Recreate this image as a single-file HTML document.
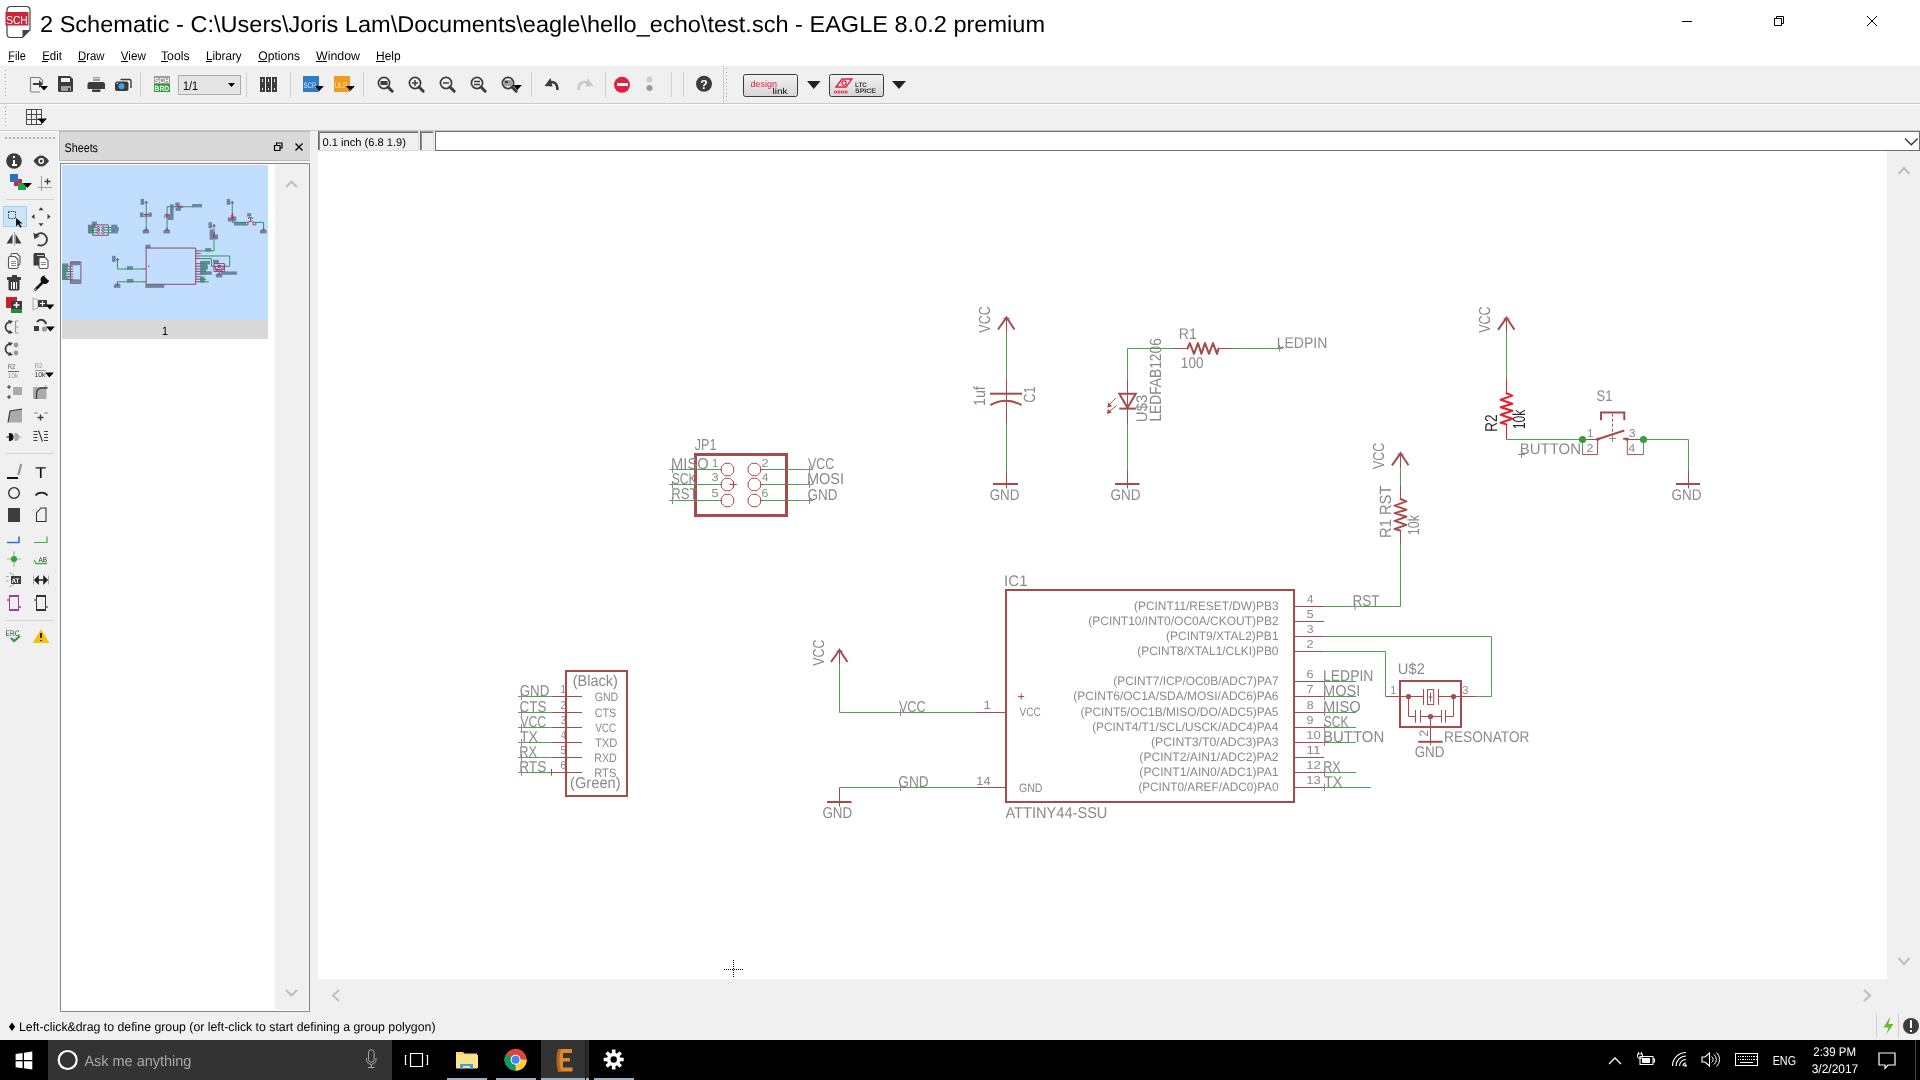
<!DOCTYPE html>
<html><head><meta charset="utf-8"><title>EAGLE 8.0.2 - test.sch</title>
<style>
html,body{margin:0;padding:0;width:1920px;height:1080px;overflow:hidden;background:#f0f0f0;font-family:"Liberation Sans", sans-serif;}
svg{position:absolute;left:0;top:0;will-change:transform;}
text{font-family:"Liberation Sans", sans-serif;text-rendering:geometricPrecision;}
</style></head><body>
<svg width="1920" height="1080" viewBox="0 0 1920 1080">
<defs><linearGradient id="btng" x1="0" y1="0" x2="0" y2="1"><stop offset="0" stop-color="#f2f2f2"/><stop offset="1" stop-color="#d6d6d6"/></linearGradient></defs>
<rect x="0" y="0" width="1920" height="66" fill="#ffffff" shape-rendering="crispEdges" />
<rect x="0" y="65" width="1920" height="1" fill="#f7f7f7" shape-rendering="crispEdges" />
<rect x="0" y="66" width="1920" height="974" fill="#f0f0f0" shape-rendering="crispEdges" />
<rect x="0" y="103" width="1920" height="1" fill="#c9c9c9" shape-rendering="crispEdges" />
<rect x="0" y="104" width="1920" height="1" fill="#fbfbfb" shape-rendering="crispEdges" />
<rect x="0" y="130" width="1920" height="1" fill="#c9c9c9" shape-rendering="crispEdges" />
<g><path d="M10.5 6.5 h16 a3.5 3.5 0 0 1 3.5 3.5 v20 l-7.5 7.5 h-12 a3.5 3.5 0 0 1 -3.5 -3.5 v-24 a3.5 3.5 0 0 1 3.5 -3.5z" fill="#fff" stroke="#444" stroke-width="1.2"/><path d="M30 30 l-7.5 7.5 v-7.5z" fill="#444"/><rect x="5.5" y="12" width="23" height="13.5" fill="#c8283a"/></g>
<text x="6.2" y="23.5" font-size="11.5" fill="#fff" textLength="21.5" lengthAdjust="spacingAndGlyphs" >SCH</text>
<text x="40" y="32" font-size="23" fill="#000" textLength="1005" lengthAdjust="spacingAndGlyphs" >2 Schematic - C:\Users\Joris Lam\Documents\eagle\hello_echo\test.sch - EAGLE 8.0.2 premium</text>
<line x1="1682" y1="21.5" x2="1692" y2="21.5" stroke="#000" stroke-width="1" />
<path d="M1774.5 18.5 h7 v7 h-7z M1776.5 18.5 v-2 h7 v7 h-2" stroke="#000" fill="none" stroke-width="1" />
<path d="M1867 16 L1877 26 M1877 16 L1867 26" stroke="#000" fill="none" stroke-width="1" />
<text x="8.3" y="60" font-size="12.5" fill="#000" textLength="17.5" lengthAdjust="spacingAndGlyphs" >File</text>
<rect x="8.3" y="61" width="5.4" height="1" fill="#000" shape-rendering="crispEdges" />
<text x="42.2" y="60" font-size="12.5" fill="#000" textLength="19.8" lengthAdjust="spacingAndGlyphs" >Edit</text>
<rect x="42.2" y="61" width="5.7" height="1" fill="#000" shape-rendering="crispEdges" />
<text x="78" y="60" font-size="12.5" fill="#000" textLength="26.5" lengthAdjust="spacingAndGlyphs" >Draw</text>
<rect x="78" y="61" width="7.8" height="1" fill="#000" shape-rendering="crispEdges" />
<text x="120.8" y="60" font-size="12.5" fill="#000" textLength="25" lengthAdjust="spacingAndGlyphs" >View</text>
<rect x="120.8" y="61" width="7.1" height="1" fill="#000" shape-rendering="crispEdges" />
<text x="161" y="60" font-size="12.5" fill="#000" textLength="28.6" lengthAdjust="spacingAndGlyphs" >Tools</text>
<rect x="161" y="61" width="6.9" height="1" fill="#000" shape-rendering="crispEdges" />
<text x="206" y="60" font-size="12.5" fill="#000" textLength="35.7" lengthAdjust="spacingAndGlyphs" >Library</text>
<rect x="206" y="61" width="6" height="1" fill="#000" shape-rendering="crispEdges" />
<text x="258.3" y="60" font-size="12.5" fill="#000" textLength="41.7" lengthAdjust="spacingAndGlyphs" >Options</text>
<rect x="258.3" y="61" width="8.3" height="1" fill="#000" shape-rendering="crispEdges" />
<text x="316" y="60" font-size="12.5" fill="#000" textLength="44" lengthAdjust="spacingAndGlyphs" >Window</text>
<rect x="316" y="61" width="10.9" height="1" fill="#000" shape-rendering="crispEdges" />
<text x="376" y="60" font-size="12.5" fill="#000" textLength="24.7" lengthAdjust="spacingAndGlyphs" >Help</text>
<rect x="376" y="61" width="8.6" height="1" fill="#000" shape-rendering="crispEdges" />
<rect x="4.5" y="70" width="1" height="1" fill="#a0a0a0" shape-rendering="crispEdges" />
<rect x="5.5" y="71" width="1" height="1" fill="#fdfdfd" shape-rendering="crispEdges" />
<rect x="4.5" y="73.5" width="1" height="1" fill="#a0a0a0" shape-rendering="crispEdges" />
<rect x="5.5" y="74.5" width="1" height="1" fill="#fdfdfd" shape-rendering="crispEdges" />
<rect x="4.5" y="77.0" width="1" height="1" fill="#a0a0a0" shape-rendering="crispEdges" />
<rect x="5.5" y="78.0" width="1" height="1" fill="#fdfdfd" shape-rendering="crispEdges" />
<rect x="4.5" y="80.5" width="1" height="1" fill="#a0a0a0" shape-rendering="crispEdges" />
<rect x="5.5" y="81.5" width="1" height="1" fill="#fdfdfd" shape-rendering="crispEdges" />
<rect x="4.5" y="84.0" width="1" height="1" fill="#a0a0a0" shape-rendering="crispEdges" />
<rect x="5.5" y="85.0" width="1" height="1" fill="#fdfdfd" shape-rendering="crispEdges" />
<rect x="4.5" y="87.5" width="1" height="1" fill="#a0a0a0" shape-rendering="crispEdges" />
<rect x="5.5" y="88.5" width="1" height="1" fill="#fdfdfd" shape-rendering="crispEdges" />
<rect x="4.5" y="91.0" width="1" height="1" fill="#a0a0a0" shape-rendering="crispEdges" />
<rect x="5.5" y="92.0" width="1" height="1" fill="#fdfdfd" shape-rendering="crispEdges" />
<rect x="4.5" y="94.5" width="1" height="1" fill="#a0a0a0" shape-rendering="crispEdges" />
<rect x="5.5" y="95.5" width="1" height="1" fill="#fdfdfd" shape-rendering="crispEdges" />
<rect x="4.5" y="107" width="1" height="1" fill="#a0a0a0" shape-rendering="crispEdges" />
<rect x="5.5" y="108" width="1" height="1" fill="#fdfdfd" shape-rendering="crispEdges" />
<rect x="4.5" y="110.5" width="1" height="1" fill="#a0a0a0" shape-rendering="crispEdges" />
<rect x="5.5" y="111.5" width="1" height="1" fill="#fdfdfd" shape-rendering="crispEdges" />
<rect x="4.5" y="114.0" width="1" height="1" fill="#a0a0a0" shape-rendering="crispEdges" />
<rect x="5.5" y="115.0" width="1" height="1" fill="#fdfdfd" shape-rendering="crispEdges" />
<rect x="4.5" y="117.5" width="1" height="1" fill="#a0a0a0" shape-rendering="crispEdges" />
<rect x="5.5" y="118.5" width="1" height="1" fill="#fdfdfd" shape-rendering="crispEdges" />
<rect x="4.5" y="121.0" width="1" height="1" fill="#a0a0a0" shape-rendering="crispEdges" />
<rect x="5.5" y="122.0" width="1" height="1" fill="#fdfdfd" shape-rendering="crispEdges" />
<rect x="4.5" y="124.5" width="1" height="1" fill="#a0a0a0" shape-rendering="crispEdges" />
<rect x="5.5" y="125.5" width="1" height="1" fill="#fdfdfd" shape-rendering="crispEdges" />
<path d="M30.5 77.5 h9 l3 3 v3 M30.5 77.5 v13 a1.5 1.5 0 0 0 1.5 1.5 h8" stroke="#808080" fill="none" stroke-width="1.2" />
<path d="M33 83 h6 v-3 l4 4 l-4 4 v-3 h-6z" stroke="none" fill="#3c3c3c" stroke-width="1" />
<path d="M40 86 h8 l-4 4.5z" stroke="none" fill="#000" stroke-width="1" />
<path d="M58 76 h12 l3 3 v11.5 a1.5 1.5 0 0 1 -1.5 1.5 h-12 a1.5 1.5 0 0 1 -1.5 -1.5z" stroke="none" fill="#3c3c3c" stroke-width="1" />
<rect x="61" y="77.5" width="9" height="4.5" fill="#f0f0f0" shape-rendering="crispEdges" />
<rect x="61" y="86" width="10" height="5" fill="#a0a0a0" shape-rendering="crispEdges" />
<rect x="68" y="87.5" width="1.5" height="3" fill="#3c3c3c" shape-rendering="crispEdges" />
<rect x="92.5" y="76.5" width="7.5" height="4" fill="#a0a0a0" shape-rendering="crispEdges" />
<rect x="92.5" y="78" width="7.5" height="0.8" fill="#d0d0d0" shape-rendering="crispEdges" />
<path d="M90 82 h12.5 a2.5 2.5 0 0 1 2.5 2.5 v4.5 h-17.5 v-4.5 a2.5 2.5 0 0 1 2.5 -2.5z" stroke="none" fill="#3c3c3c" stroke-width="1" />
<path d="M92 89.5 h8.5 v1.5 a1 1 0 0 1 -1 1 h-6.5 a1 1 0 0 1 -1 -1z" stroke="none" fill="#3c3c3c" stroke-width="1" />
<path d="M120.5 79.5 h9 a1.5 1.5 0 0 1 1.5 1.5 v7" stroke="#3c3c3c" fill="none" stroke-width="1.4" />
<path d="M117 81.5 h9.5 a2 2 0 0 1 2 2 v5.5 a2 2 0 0 1 -2 2 h-9.5 a2 2 0 0 1 -2 -2 v-5.5 a2 2 0 0 1 2 -2z" stroke="none" fill="#3c3c3c" stroke-width="1" />
<circle cx="121.5" cy="86.3" r="3" fill="#3aa4e6"/><circle cx="117.3" cy="83.3" r="0.7" fill="#fff"/>
<rect x="140" y="72" width="1" height="25" fill="#d0d0d0" shape-rendering="crispEdges" />
<rect x="154" y="76" width="16" height="8" fill="#9a9a9a" shape-rendering="crispEdges" />
<rect x="154" y="84" width="16" height="8" fill="#2f9a3a" shape-rendering="crispEdges" />
<text x="154.6" y="83.2" font-size="7.5" fill="#fff" textLength="14.6" lengthAdjust="spacingAndGlyphs" font-weight="bold" >SCH</text>
<text x="154.6" y="91.2" font-size="7.5" fill="#fff" textLength="14.6" lengthAdjust="spacingAndGlyphs" font-weight="bold" >BRD</text>
<rect x="178.5" y="75.5" width="62" height="19" fill="#e5e5e5" shape-rendering="crispEdges" stroke="#adadad" stroke-width="1"/>
<text x="183" y="89.5" font-size="12.5" fill="#000" textLength="15" lengthAdjust="spacingAndGlyphs" >1/1</text>
<path d="M228 83 h7 l-3.5 4z" stroke="none" fill="#000" stroke-width="1" />
<rect x="246.3" y="72" width="1" height="25" fill="#d0d0d0" shape-rendering="crispEdges" />
<rect x="260" y="77" width="4.5" height="15" fill="#3c3c3c" shape-rendering="crispEdges" />
<rect x="261.5" y="78.5" width="1.5" height="3" fill="#f0f0f0" shape-rendering="crispEdges" />
<rect x="261.5" y="88" width="1.5" height="2" fill="#f0f0f0" shape-rendering="crispEdges" />
<rect x="266" y="77" width="4.5" height="15" fill="#3c3c3c" shape-rendering="crispEdges" />
<rect x="267.5" y="78.5" width="1.5" height="3" fill="#f0f0f0" shape-rendering="crispEdges" />
<rect x="267.5" y="88" width="1.5" height="2" fill="#f0f0f0" shape-rendering="crispEdges" />
<rect x="272" y="77" width="4.5" height="15" fill="#3c3c3c" shape-rendering="crispEdges" />
<rect x="273.5" y="78.5" width="1.5" height="3" fill="#f0f0f0" shape-rendering="crispEdges" />
<rect x="273.5" y="88" width="1.5" height="2" fill="#f0f0f0" shape-rendering="crispEdges" />
<rect x="290" y="72" width="1" height="25" fill="#d0d0d0" shape-rendering="crispEdges" />
<rect x="303" y="76" width="16" height="16" fill="#2e7bc6" shape-rendering="crispEdges" />
<text x="303.5" y="87.5" font-size="8" fill="#dfe9f5" textLength="13" lengthAdjust="spacingAndGlyphs" >SCR</text>
<path d="M315 86 h8.8 l-4.4 4.95z" stroke="none" fill="#000" stroke-width="1" />
<rect x="334" y="76" width="16" height="16" fill="#f39a1f" shape-rendering="crispEdges" />
<text x="334.5" y="87.5" font-size="8" fill="#fde7c8" textLength="13" lengthAdjust="spacingAndGlyphs" >ULP</text>
<path d="M346 86 h8.8 l-4.4 4.95z" stroke="none" fill="#000" stroke-width="1" />
<rect x="363.4" y="72" width="1" height="25" fill="#d0d0d0" shape-rendering="crispEdges" />
<circle cx="384" cy="83" r="5.6" fill="none" stroke="#3c3c3c" stroke-width="1.7"/>
<path d="M388 87 l4.2 4.2" stroke="#3c3c3c" fill="none" stroke-width="3" stroke-linecap="round"/>
<rect x="380.5" y="81" width="7" height="4" fill="#3c3c3c"/>
<circle cx="415" cy="83" r="5.6" fill="none" stroke="#3c3c3c" stroke-width="1.7"/>
<path d="M419 87 l4.2 4.2" stroke="#3c3c3c" fill="none" stroke-width="3" stroke-linecap="round"/>
<path d="M412 83h6M415 80v6" stroke="#3c3c3c" stroke-width="1.5"/>
<circle cx="446" cy="83" r="5.6" fill="none" stroke="#3c3c3c" stroke-width="1.7"/>
<path d="M450 87 l4.2 4.2" stroke="#3c3c3c" fill="none" stroke-width="3" stroke-linecap="round"/>
<path d="M443 83h6" stroke="#3c3c3c" stroke-width="1.5"/>
<circle cx="477" cy="83" r="5.6" fill="none" stroke="#3c3c3c" stroke-width="1.7"/>
<path d="M481 87 l4.2 4.2" stroke="#3c3c3c" fill="none" stroke-width="3" stroke-linecap="round"/>
<path d="M474 81.5h6M474 84.5h6" stroke="#3c3c3c" stroke-width="1.3"/>
<circle cx="508" cy="83" r="5.6" fill="none" stroke="#3c3c3c" stroke-width="1.7"/>
<path d="M512 87 l4.2 4.2" stroke="#3c3c3c" fill="none" stroke-width="3" stroke-linecap="round"/>
<rect x="504" y="80" width="8" height="6" fill="#a0a0a0"/><rect x="505" y="81" width="3" height="2" fill="#3c3c3c"/>
<path d="M513 85 h8.8 l-4.4 4.95z" stroke="none" fill="#000" stroke-width="1" />
<rect x="530.7" y="72" width="1" height="25" fill="#d0d0d0" shape-rendering="crispEdges" />
<path d="M557.5 90 c0 -7 -4 -9 -9 -7.5" stroke="#3c3c3c" fill="none" stroke-width="2.6" />
<path d="M544.5 86 l6 -8 l2 8.5z" stroke="none" fill="#3c3c3c" stroke-width="1" />
<path d="M576.5 90 c0 -7 4 -9 9 -7.5" stroke="#c8c8c8" fill="none" stroke-width="2.6" transform="translate(2 0)"/>
<path d="M591.5 86 l-6 -8 l-2 8.5z" stroke="none" fill="#c8c8c8" stroke-width="1" transform="translate(2 0)"/>
<rect x="604.8" y="72" width="1" height="25" fill="#d0d0d0" shape-rendering="crispEdges" />
<circle cx="622" cy="84.8" r="8" fill="#e0203c"/>
<rect x="616.5" y="83.3" width="11" height="3" fill="#fff" shape-rendering="crispEdges" />
<circle cx="649.5" cy="79.5" r="3" fill="#cdcdcd"/><circle cx="649.5" cy="88" r="3" fill="#9a9a9a"/>
<rect x="670.9" y="72" width="1" height="25" fill="#d0d0d0" shape-rendering="crispEdges" />
<rect x="682.7" y="72" width="1" height="25" fill="#d0d0d0" shape-rendering="crispEdges" />
<circle cx="704" cy="83.8" r="8" fill="#3c3c3c"/>
<text x="700.3" y="88.8" font-size="13" fill="#fff" textLength="7.5" lengthAdjust="spacingAndGlyphs" font-weight="bold" >?</text>
<rect x="722.5" y="66" width="1" height="37" fill="#cfcfcf" shape-rendering="crispEdges" />
<rect x="725.5" y="68" width="1" height="1" fill="#a0a0a0" shape-rendering="crispEdges" />
<rect x="726.5" y="69" width="1" height="1" fill="#fdfdfd" shape-rendering="crispEdges" />
<rect x="725.5" y="71.5" width="1" height="1" fill="#a0a0a0" shape-rendering="crispEdges" />
<rect x="726.5" y="72.5" width="1" height="1" fill="#fdfdfd" shape-rendering="crispEdges" />
<rect x="725.5" y="75.0" width="1" height="1" fill="#a0a0a0" shape-rendering="crispEdges" />
<rect x="726.5" y="76.0" width="1" height="1" fill="#fdfdfd" shape-rendering="crispEdges" />
<rect x="725.5" y="78.5" width="1" height="1" fill="#a0a0a0" shape-rendering="crispEdges" />
<rect x="726.5" y="79.5" width="1" height="1" fill="#fdfdfd" shape-rendering="crispEdges" />
<rect x="725.5" y="82.0" width="1" height="1" fill="#a0a0a0" shape-rendering="crispEdges" />
<rect x="726.5" y="83.0" width="1" height="1" fill="#fdfdfd" shape-rendering="crispEdges" />
<rect x="725.5" y="85.5" width="1" height="1" fill="#a0a0a0" shape-rendering="crispEdges" />
<rect x="726.5" y="86.5" width="1" height="1" fill="#fdfdfd" shape-rendering="crispEdges" />
<rect x="725.5" y="89.0" width="1" height="1" fill="#a0a0a0" shape-rendering="crispEdges" />
<rect x="726.5" y="90.0" width="1" height="1" fill="#fdfdfd" shape-rendering="crispEdges" />
<rect x="725.5" y="92.5" width="1" height="1" fill="#a0a0a0" shape-rendering="crispEdges" />
<rect x="726.5" y="93.5" width="1" height="1" fill="#fdfdfd" shape-rendering="crispEdges" />
<rect x="725.5" y="96.0" width="1" height="1" fill="#a0a0a0" shape-rendering="crispEdges" />
<rect x="726.5" y="97.0" width="1" height="1" fill="#fdfdfd" shape-rendering="crispEdges" />
<rect x="725.5" y="99.5" width="1" height="1" fill="#a0a0a0" shape-rendering="crispEdges" />
<rect x="726.5" y="100.5" width="1" height="1" fill="#fdfdfd" shape-rendering="crispEdges" />
<rect x="743.5" y="74.5" width="54" height="22" rx="2" fill="url(#btng)" stroke="#3a3a3a" stroke-width="1"/>
<text x="750.5" y="86.5" font-size="9" fill="#e0203c" textLength="26.5" lengthAdjust="spacingAndGlyphs" >design</text>
<text x="772.5" y="93.5" font-size="8.5" fill="#000" textLength="15" lengthAdjust="spacingAndGlyphs" >link</text>
<path d="M807 81 h13.5 l-6.75 8z" stroke="none" fill="#222" stroke-width="1" />
<rect x="829.5" y="74.5" width="54" height="22" rx="2" fill="url(#btng)" stroke="#3a3a3a" stroke-width="1"/>
<path d="M836 87 l6 -8 h10 l-6 8z" stroke="#e0203c" fill="none" stroke-width="1.3" />
<circle cx="844" cy="83" r="2.2" fill="none" stroke="#e0203c" stroke-width="1.2"/>
<circle cx="835.5" cy="92" r="1.2" fill="none" stroke="#e0203c" stroke-width="0.9"/>
<circle cx="839.0" cy="92" r="1.2" fill="none" stroke="#e0203c" stroke-width="0.9"/>
<circle cx="842.5" cy="92" r="1.2" fill="none" stroke="#e0203c" stroke-width="0.9"/>
<circle cx="846.0" cy="92" r="1.2" fill="none" stroke="#e0203c" stroke-width="0.9"/>
<text x="855" y="86.5" font-size="6.5" fill="#333" textLength="12" lengthAdjust="spacingAndGlyphs" font-weight="bold" >LTC</text>
<text x="855" y="93" font-size="6.5" fill="#333" textLength="21" lengthAdjust="spacingAndGlyphs" font-weight="bold" >SPICE</text>
<path d="M892 81 h14 l-7 8z" stroke="none" fill="#222" stroke-width="1" />
<rect x="26" y="109" width="15.5" height="15.5" fill="#4a4a4a" shape-rendering="crispEdges" />
<rect x="27.4" y="110.4" width="3.4" height="3.4" fill="#f2f2f2" shape-rendering="crispEdges" />
<rect x="27.4" y="115.30000000000001" width="3.4" height="3.4" fill="#f2f2f2" shape-rendering="crispEdges" />
<rect x="27.4" y="120.2" width="3.4" height="3.4" fill="#f2f2f2" shape-rendering="crispEdges" />
<rect x="32.3" y="110.4" width="3.4" height="3.4" fill="#f2f2f2" shape-rendering="crispEdges" />
<rect x="32.3" y="115.30000000000001" width="3.4" height="3.4" fill="#f2f2f2" shape-rendering="crispEdges" />
<rect x="32.3" y="120.2" width="3.4" height="3.4" fill="#f2f2f2" shape-rendering="crispEdges" />
<rect x="37.2" y="110.4" width="3.4" height="3.4" fill="#f2f2f2" shape-rendering="crispEdges" />
<rect x="37.2" y="115.30000000000001" width="3.4" height="3.4" fill="#f2f2f2" shape-rendering="crispEdges" />
<rect x="37.2" y="120.2" width="3.4" height="3.4" fill="#f2f2f2" shape-rendering="crispEdges" />
<path d="M37.5 118.5 h9.5 l-4.75 5z" stroke="none" fill="#000" stroke-width="1" />
<rect x="58" y="131" width="1" height="880" fill="#fbfbfb" shape-rendering="crispEdges" />
<rect x="5" y="136.5" width="2" height="2" fill="#b4b4b4" shape-rendering="crispEdges" />
<rect x="9" y="136.5" width="2" height="2" fill="#b4b4b4" shape-rendering="crispEdges" />
<rect x="13" y="136.5" width="2" height="2" fill="#b4b4b4" shape-rendering="crispEdges" />
<rect x="17" y="136.5" width="2" height="2" fill="#b4b4b4" shape-rendering="crispEdges" />
<rect x="21" y="136.5" width="2" height="2" fill="#b4b4b4" shape-rendering="crispEdges" />
<rect x="25" y="136.5" width="2" height="2" fill="#b4b4b4" shape-rendering="crispEdges" />
<rect x="29" y="136.5" width="2" height="2" fill="#b4b4b4" shape-rendering="crispEdges" />
<rect x="33" y="136.5" width="2" height="2" fill="#b4b4b4" shape-rendering="crispEdges" />
<rect x="37" y="136.5" width="2" height="2" fill="#b4b4b4" shape-rendering="crispEdges" />
<rect x="41" y="136.5" width="2" height="2" fill="#b4b4b4" shape-rendering="crispEdges" />
<rect x="45" y="136.5" width="2" height="2" fill="#b4b4b4" shape-rendering="crispEdges" />
<rect x="49" y="136.5" width="2" height="2" fill="#b4b4b4" shape-rendering="crispEdges" />
<rect x="53" y="136.5" width="2" height="2" fill="#b4b4b4" shape-rendering="crispEdges" />
<rect x="6" y="199" width="48" height="1" fill="#d2d2d2" shape-rendering="crispEdges" />
<rect x="6" y="453" width="48" height="1" fill="#d2d2d2" shape-rendering="crispEdges" />
<rect x="6" y="619.5" width="48" height="1" fill="#d2d2d2" shape-rendering="crispEdges" />
<circle cx="14" cy="161" r="7.8" fill="#3c3c3c"/>
<rect x="12.6" y="159.5" width="2.8" height="6" fill="#fff" shape-rendering="crispEdges" />
<rect x="12.6" y="155.6" width="2.8" height="2.6" fill="#fff" shape-rendering="crispEdges" />
<rect x="11.5" y="164.2" width="5" height="1.4" fill="#fff" shape-rendering="crispEdges" />
<path d="M33.5 161 q7.6 -11 15.5 0 q-7.9 11 -15.5 0z" stroke="none" fill="#3c3c3c" stroke-width="1" />
<circle cx="41.2" cy="161" r="2.2" fill="none" stroke="#fff" stroke-width="1.4"/>
<rect x="10" y="174" width="8" height="8" fill="#2e6fc0" shape-rendering="crispEdges" />
<rect x="14" y="178.5" width="8" height="7.5" fill="#d8204f" shape-rendering="crispEdges" />
<rect x="18" y="182.5" width="8" height="7.5" fill="#20a050" shape-rendering="crispEdges" />
<rect x="10" y="174" width="8" height="8" fill="#2e6fc0" shape-rendering="crispEdges" />
<path d="M23 183 h8.8 l-4.4 4.95z" stroke="none" fill="#000" stroke-width="1" />
<rect x="41" y="176" width="1.2" height="15" fill="#a0a0a0" shape-rendering="crispEdges" />
<rect x="38" y="186.5" width="14" height="1.2" fill="#a0a0a0" shape-rendering="crispEdges" />
<path d="M44.5 181.5 h6 M47.5 178.5 v6" stroke="#3c3c3c" fill="none" stroke-width="1.3" />
<rect x="3.5" y="206.5" width="22.5" height="20" fill="#cce4f7" shape-rendering="crispEdges" stroke="#99d1ff" stroke-width="1"/>
<path d="M8.5 211.5 h7 v7 h-7z" stroke="#222" fill="none" stroke-width="1" stroke-dasharray="1.2 1.2"/>
<path d="M16 218 v8.5 l2.2 -2.2 l2 3.5 l1.5 -0.8 l-2 -3.5 h3z" stroke="none" fill="#111" stroke-width="1" />
<path d="M41 207.2 l2.6 3 h-5.2z" stroke="none" fill="#3c3c3c" stroke-width="1" transform="rotate(0 41 209.7)"/>
<path d="M41 221.2 l2.6 3 h-5.2z" stroke="none" fill="#3c3c3c" stroke-width="1" transform="rotate(180 41 223.7)"/>
<path d="M34 214.2 l2.6 3 h-5.2z" stroke="none" fill="#3c3c3c" stroke-width="1" transform="rotate(270 34 216.7)"/>
<path d="M48 214.2 l2.6 3 h-5.2z" stroke="none" fill="#3c3c3c" stroke-width="1" transform="rotate(90 48 216.7)"/>
<path d="M6.5 243.5 l6 -9.5 v9.5z M21.5 243.5 l-6 -9.5 v9.5z" stroke="none" fill="#3c3c3c" stroke-width="1" />
<rect x="13.5" y="232" width="1" height="14" fill="#aaaaaa" shape-rendering="crispEdges" />
<path d="M35.6 236 a6.2 6.2 0 1 1 2 8.7" stroke="#3c3c3c" fill="none" stroke-width="1.8" />
<path d="M33.4 232.8 l1 6.5 l5.3 -3.3z" stroke="none" fill="#3c3c3c" stroke-width="1" />
<path d="M12.5 253.5 h4.5 l3 3 v7.0 a1.5 1.5 0 0 1 -1.5 1.5 h-6 a1.5 1.5 0 0 1 -1.5 -1.5 v-8.5 a1.5 1.5 0 0 1 1.5 -1.5z" stroke="#555" fill="#fafafa" stroke-width="1.1" />
<path d="M10.0 256.5 h5.0 l3 3 v7.5 a1.5 1.5 0 0 1 -1.5 1.5 h-6.5 a1.5 1.5 0 0 1 -1.5 -1.5 v-9 a1.5 1.5 0 0 1 1.5 -1.5z" stroke="#555" fill="#fafafa" stroke-width="1.1" />
<rect x="11" y="261" width="5" height="1" fill="#8a8a8a" shape-rendering="crispEdges" />
<rect x="11" y="263" width="5" height="1" fill="#8a8a8a" shape-rendering="crispEdges" />
<rect x="11" y="265" width="5" height="1" fill="#8a8a8a" shape-rendering="crispEdges" />
<path d="M35 253 h8.5 a1.5 1.5 0 0 1 1.5 1.5 v11 h-11.5 v-11 a1.5 1.5 0 0 1 1.5 -1.5z" stroke="none" fill="#3c3c3c" stroke-width="1" />
<rect x="36.5" y="254.7" width="7" height="1" fill="#c8c8c8" shape-rendering="crispEdges" />
<path d="M40.5 257.5 h4.5 l3 3 v6.5 a1.5 1.5 0 0 1 -1.5 1.5 h-6 a1.5 1.5 0 0 1 -1.5 -1.5 v-8 a1.5 1.5 0 0 1 1.5 -1.5z" stroke="#555" fill="#fafafa" stroke-width="1.1" />
<rect x="41" y="262" width="5" height="1" fill="#8a8a8a" shape-rendering="crispEdges" />
<rect x="41" y="264" width="5" height="1" fill="#8a8a8a" shape-rendering="crispEdges" />
<rect x="7" y="277" width="14" height="2.5" fill="#3c3c3c" shape-rendering="crispEdges" />
<rect x="11.5" y="275" width="5" height="2" fill="#3c3c3c" shape-rendering="crispEdges" />
<path d="M8.5 280 h11 v9 a1.5 1.5 0 0 1 -1.5 1.5 h-8 a1.5 1.5 0 0 1 -1.5 -1.5z" stroke="none" fill="#3c3c3c" stroke-width="1" />
<rect x="10.6" y="281.5" width="1.2" height="7" fill="#f0f0f0" shape-rendering="crispEdges" />
<rect x="13.4" y="281.5" width="1.2" height="7" fill="#f0f0f0" shape-rendering="crispEdges" />
<rect x="16.2" y="281.5" width="1.2" height="7" fill="#f0f0f0" shape-rendering="crispEdges" />
<path d="M35.5 289.5 l7.5 -7.5" stroke="#111" fill="none" stroke-width="2.6" stroke-linecap="round"/>
<circle cx="44.8" cy="279.8" r="4.3" fill="#111"/>
<path d="M45.2 275.3 l4.2 4.2" stroke="#f0f0f0" fill="none" stroke-width="2.8" />
<circle cx="35.8" cy="289.2" r="0.7" fill="#fff"/>
<rect x="6" y="297" width="11" height="11" fill="#c8202e" shape-rendering="crispEdges" />
<rect x="11" y="301" width="11" height="8" fill="#3c3c3c" shape-rendering="crispEdges" />
<rect x="11" y="309" width="11" height="4" fill="#2b8a2b" shape-rendering="crispEdges" />
<path d="M13.5 305 h6 M16.5 302 v6" stroke="#fff" fill="none" stroke-width="1.5" />
<path d="M33 298 l5 2 v8 l-5 2z" stroke="#aaa" fill="none" stroke-width="1" />
<rect x="38" y="300" width="9" height="7" fill="#3c3c3c" shape-rendering="crispEdges" />
<path d="M40 303.5 h5 M42.5 301 v5" stroke="#fff" fill="none" stroke-width="1.1" />
<path d="M45.5 304.5 h8.8 l-4.4 4.95z" stroke="none" fill="#000" stroke-width="1" />
<path d="M10.5 322 a4 4 0 0 0 0 10" stroke="#3c3c3c" fill="none" stroke-width="1.8" />
<path d="M8 320 l5 1 l-3 3z M8 334 l5 -1 l-3 -3z" stroke="none" fill="#3c3c3c" stroke-width="1" />
<path d="M15.5 321 v12 M15.5 321 h3 M15.5 327 h3 M15.5 333 h3" stroke="#999" fill="none" stroke-width="1.2" />
<path d="M37 322 a5 5 0 0 1 9 2" stroke="#3c3c3c" fill="none" stroke-width="2" />
<rect x="33.5" y="326" width="5" height="5" fill="#3c3c3c" shape-rendering="crispEdges" />
<circle cx="44.5" cy="329" r="2.6" fill="#999"/>
<path d="M46 326.5 h8.8 l-4.4 4.95z" stroke="none" fill="#000" stroke-width="1" />
<path d="M10.5 344 a4 4 0 0 0 0 10" stroke="#3c3c3c" fill="none" stroke-width="1.8" />
<path d="M8 342 l5 1 l-3 3z M8 356 l5 -1 l-3 -3z" stroke="none" fill="#3c3c3c" stroke-width="1" />
<circle cx="16" cy="345" r="2.4" fill="#999"/><circle cx="16" cy="353" r="2.4" fill="#999"/>
<text x="7.5" y="369" font-size="7" fill="#666" textLength="8" lengthAdjust="spacingAndGlyphs" >R2</text>
<rect x="7.5" y="370.5" width="11" height="1" fill="#666" shape-rendering="crispEdges" />
<text x="7.5" y="377.5" font-size="7" fill="#999" textLength="11" lengthAdjust="spacingAndGlyphs" >10k</text>
<text x="34.5" y="368" font-size="7" fill="#999" textLength="8" lengthAdjust="spacingAndGlyphs" >R2</text>
<rect x="34.5" y="369.5" width="11" height="1" fill="#999" shape-rendering="crispEdges" />
<text x="34.5" y="377" font-size="7" fill="#333" textLength="11" lengthAdjust="spacingAndGlyphs" >10k</text>
<path d="M45 372.5 h8.8 l-4.4 4.95z" stroke="none" fill="#000" stroke-width="1" />
<path d="M9 385 v4 M7 387 h4 M9 395 v4 M7 397 h4" stroke="#3c3c3c" fill="none" stroke-width="1.1" />
<rect x="12.5" y="387" width="9" height="8" fill="#aaa" shape-rendering="crispEdges" />
<path d="M33 387 h12 v-2 h1.5 v14 h-13.5z" stroke="none" fill="#aaa" stroke-width="1" />
<path d="M36.5 399 v-6 a5 5 0 0 1 5 -5 h6" stroke="#3c3c3c" fill="none" stroke-width="1.3" />
<path d="M8 422.5 l2 -11.5 l12 -2 v13.5z" stroke="none" fill="#aaa" stroke-width="1" />
<path d="M8 422.5 l2 -11.5 l12 -2" stroke="#3c3c3c" fill="none" stroke-width="1.2" />
<path d="M34 413 h4 M44 413 h4" stroke="#888" fill="none" stroke-width="1" />
<path d="M37.5 417.5 h6 M40.5 414.5 v6" stroke="#3c3c3c" fill="none" stroke-width="1.4" />
<path d="M6.5 437 h3 M9.5 433.5 a3.5 3.5 0 0 1 0 7z" stroke="#111" fill="#111" stroke-width="1.2" />
<path d="M15 433.5 a3.5 3.5 0 0 1 0 7z M18.5 437 h3" stroke="#aaa" fill="#aaa" stroke-width="1.2" />
<path d="M33.5 431.5 h4 M33.5 434.5 h4 M33.5 437.5 h4 M33.5 440.5 h4 M44 431.5 h4 M44 434.5 h4 M44 437.5 h4 M44 440.5 h4 M38.5 430.5 l4 11" stroke="#3c3c3c" fill="none" stroke-width="1.2" />
<rect x="6.5" y="477" width="11" height="1.6" fill="#111" shape-rendering="crispEdges" />
<path d="M18.5 474 l2.5 -9" stroke="#999" fill="none" stroke-width="2.4" stroke-linecap="round"/>
<text x="35.3" y="477.8" font-size="15.5" fill="#111" textLength="11" lengthAdjust="spacingAndGlyphs" font-family="Liberation Serif">T</text>
<circle cx="14" cy="493" r="5.3" fill="none" stroke="#222" stroke-width="1.3"/>
<path d="M35.5 495.5 a7 6 0 0 1 12 0" stroke="#222" fill="none" stroke-width="1.6" />
<rect x="8" y="508" width="12" height="14" fill="#3c3c3c" shape-rendering="crispEdges" />
<path d="M36.5 521.5 v-8.5 l4.5 -5 h5 v13.5z" stroke="#333" fill="none" stroke-width="1.1" />
<path d="M7 542.5 h12 v-6" stroke="#2a75d0" fill="none" stroke-width="1.6" />
<path d="M34 542.5 h13 v-6" stroke="#3db040" fill="none" stroke-width="1.2" />
<path d="M14 551.5 v15 M7 559 h14" stroke="#aaa" fill="none" stroke-width="1.2" />
<circle cx="14" cy="559" r="3.1" fill="#2ea838"/>
<path d="M34 560 l2 3.5 h11" stroke="#3db040" fill="none" stroke-width="1.3" />
<text x="38.5" y="561.5" font-size="7" fill="#222" textLength="8.5" lengthAdjust="spacingAndGlyphs" >AB</text>
<path d="M6 576.5 h3 M6 581 h3 M9.5 573 l4 1.5 v10.5 l-4 1.5" stroke="#aaa" fill="none" stroke-width="1" />
<rect x="10.5" y="575.5" width="10" height="8" fill="#3c3c3c" shape-rendering="crispEdges" />
<text x="11.5" y="582.5" font-size="6.5" fill="#fff" textLength="8" lengthAdjust="spacingAndGlyphs" font-weight="bold" >AT</text>
<path d="M33.5 575.5 v9 M48.5 575.5 v9" stroke="#aaa" fill="none" stroke-width="1" />
<path d="M35 580 h12 M35 580 l3 -3 v6z M47 580 l-3 -3 v6z" stroke="#222" fill="#222" stroke-width="1.6" />
<rect x="9.5" y="596" width="9" height="14" fill="none" shape-rendering="crispEdges" stroke="#9b3fa0" stroke-width="1.3"/>
<path d="M7 600 h2.5 M18.5 607 h2.5" stroke="#9b3fa0" fill="none" stroke-width="1.3" />
<rect x="36.5" y="596" width="9" height="14" fill="none" shape-rendering="crispEdges" stroke="#333" stroke-width="1.3"/>
<path d="M34 600 h2.5 M45.5 607 h2.5" stroke="#9b3fa0" fill="none" stroke-width="1.3" />
<text x="5.5" y="636" font-size="8" fill="#333" textLength="14" lengthAdjust="spacingAndGlyphs" >ERC</text>
<path d="M11 638 l3 3 l6 -5" stroke="#2e9a35" fill="none" stroke-width="2.2" />
<path d="M41 629 l8.3 14 h-16.6z" stroke="none" fill="#f5c400" stroke-width="1" />
<rect x="40.2" y="633" width="1.8" height="5" fill="#222" shape-rendering="crispEdges" />
<rect x="40.2" y="639.5" width="1.8" height="1.8" fill="#222" shape-rendering="crispEdges" />
<rect x="60" y="132" width="249.5" height="28.5" fill="#d9d9d9" shape-rendering="crispEdges" />
<rect x="59" y="131" width="251" height="1" fill="#b9b9b9" shape-rendering="crispEdges" />
<rect x="59" y="131" width="1" height="30" fill="#b9b9b9" shape-rendering="crispEdges" />
<rect x="0" y="131" width="59" height="1" fill="#ffffff" shape-rendering="crispEdges" />
<rect x="59" y="160" width="251" height="1" fill="#b9b9b9" shape-rendering="crispEdges" />
<rect x="60" y="161" width="250" height="2" fill="#f8f8f8" shape-rendering="crispEdges" />
<text x="64.5" y="152" font-size="12.5" fill="#000" textLength="33.5" lengthAdjust="spacingAndGlyphs" >Sheets</text>
<path d="M274.5 145.5 h5.5 v5 h-5.5z M276.5 145.5 v-2.5 h5.5 v5 h-2" stroke="#000" fill="none" stroke-width="1.2" />
<path d="M295.5 143.5 l7 7 M302.5 143.5 l-7 7" stroke="#000" fill="none" stroke-width="1.4" />
<rect x="60.5" y="163.5" width="249" height="848" fill="#ffffff" shape-rendering="crispEdges" stroke="#828790" stroke-width="1"/>
<rect x="275" y="164" width="34" height="846" fill="#f0f0f0" shape-rendering="crispEdges" />
<path d="M286 187 l5.5 -5.5 l5.5 5.5" stroke="#bfbfbf" fill="none" stroke-width="2.2" />
<path d="M286 990 l5.5 5.5 l5.5 -5.5" stroke="#bfbfbf" fill="none" stroke-width="2.2" />
<rect x="62" y="165" width="206" height="155" fill="#c2deff" shape-rendering="crispEdges" />
<rect x="62" y="165" width="206" height="1" fill="#d4d8d8" shape-rendering="crispEdges" />
<rect x="62" y="320" width="206" height="19" fill="#d9d9d9" shape-rendering="crispEdges" />
<text x="165" y="334.5" font-size="12" fill="#000" text-anchor="middle" textLength="6" lengthAdjust="spacingAndGlyphs" >1</text>
<rect x="318" y="151" width="1569" height="828" fill="#ffffff" shape-rendering="crispEdges" />
<rect x="318" y="131" width="101" height="20" fill="#f0f0f0" shape-rendering="crispEdges" />
<rect x="318" y="131" width="101" height="1" fill="#a0a0a0" shape-rendering="crispEdges" />
<rect x="318" y="132" width="101" height="1" fill="#6e6e6e" shape-rendering="crispEdges" />
<rect x="318" y="131" width="1" height="20" fill="#6e6e6e" shape-rendering="crispEdges" />
<rect x="319" y="132" width="1" height="19" fill="#8a8a8a" shape-rendering="crispEdges" />
<rect x="318" y="150" width="101" height="1" fill="#dcdcdc" shape-rendering="crispEdges" />
<rect x="418" y="131" width="1" height="20" fill="#dcdcdc" shape-rendering="crispEdges" />
<text x="322.5" y="145.5" font-size="11" fill="#000" textLength="83.5" lengthAdjust="spacingAndGlyphs" >0.1 inch (6.8 1.9)</text>
<rect x="420" y="131" width="14" height="20" fill="#f0f0f0" shape-rendering="crispEdges" />
<rect x="420" y="131" width="14" height="1" fill="#a0a0a0" shape-rendering="crispEdges" />
<rect x="420" y="132" width="14" height="1" fill="#6e6e6e" shape-rendering="crispEdges" />
<rect x="420" y="131" width="1" height="20" fill="#6e6e6e" shape-rendering="crispEdges" />
<rect x="421" y="132" width="1" height="19" fill="#8a8a8a" shape-rendering="crispEdges" />
<rect x="420" y="150" width="14" height="1" fill="#dcdcdc" shape-rendering="crispEdges" />
<rect x="433" y="131" width="1" height="20" fill="#dcdcdc" shape-rendering="crispEdges" />
<rect x="435.5" y="131.5" width="1484" height="19" fill="#ffffff" shape-rendering="crispEdges" stroke="#6e6e6e" stroke-width="1"/>
<path d="M1905 138.5 l6.3 6.3 l6.3 -6.3" stroke="#333" fill="none" stroke-width="1.3" />
<path d="M1898.5 174 l5.5 -6 l5.5 6" stroke="#bfbfbf" fill="none" stroke-width="2.2" />
<path d="M1898.5 958 l5.5 6 l5.5 -6" stroke="#bfbfbf" fill="none" stroke-width="2.2" />
<path d="M339 990 l-6 5.5 l6 5.5" stroke="#bfbfbf" fill="none" stroke-width="2.2" />
<path d="M1864 990 l6 5.5 l-6 5.5" stroke="#bfbfbf" fill="none" stroke-width="2.2" />
<path d="M12 1022.5 l3.1 4.2 l-3.1 4.2 l-3.1 -4.2z" stroke="none" fill="#000" stroke-width="1" />
<text x="19" y="1030.5" font-size="12.5" fill="#000" textLength="416.5" lengthAdjust="spacingAndGlyphs" >Left-click&amp;drag to define group (or left-click to start defining a group polygon)</text>
<rect x="1876" y="1014" width="1" height="24" fill="#d0d0d0" shape-rendering="crispEdges" />
<rect x="1898" y="1014" width="1" height="24" fill="#d0d0d0" shape-rendering="crispEdges" />
<path d="M1889.5 1018 l-6 9.5 h5 l-2 6.5 l7 -10 h-5.2 l2 -6z" stroke="none" fill="#6ab82e" stroke-width="1" />
<circle cx="1911" cy="1026" r="8" fill="#3c3c3c"/>
<rect x="1910" y="1019.5" width="2.2" height="8.5" fill="#fff" shape-rendering="crispEdges" />
<rect x="1910" y="1029.8" width="2.2" height="2.2" fill="#fff" shape-rendering="crispEdges" />
<rect x="0" y="1040" width="1920" height="40" fill="#000000" shape-rendering="crispEdges" />
<rect x="48" y="1040" width="344" height="40" fill="#333333" shape-rendering="crispEdges" />
<path d="M15.6 1054 l7 -1 v7 h-7z M24 1052.8 l8.3 -1.2 v8.4 h-8.3z M15.6 1061.2 h7 v7 l-7 -1z M24 1061.2 h8.3 v8.3 l-8.3 -1.2z" stroke="none" fill="#fff" stroke-width="1" />
<circle cx="67.7" cy="1060" r="9" fill="none" stroke="#fff" stroke-width="2.2"/>
<text x="84.4" y="1066" font-size="15" fill="#a8a8a8" textLength="107" lengthAdjust="spacingAndGlyphs" >Ask me anything</text>
<path d="M368.5 1052.5 a2.8 2.8 0 0 1 5.6 0 v7 a2.8 2.8 0 0 1 -5.6 0z M366.5 1058 v1.5 a4.8 4.8 0 0 0 9.6 0 v-1.5 M371.3 1064.5 v3 M368 1067.5 h6.6" stroke="#a8a8a8" fill="none" stroke-width="1" />
<path d="M410.5 1053.5 h12 v13 h-12z M406.5 1055.5 h-1 v9 h1 M426.5 1055.5 h1 v9 h-1" stroke="#fff" fill="none" stroke-width="1.2" />
<path d="M456 1052 h7 l1.5 1.5 h12.5 v15 h-21z" stroke="none" fill="#f8d775" stroke-width="1" />
<rect x="456" y="1055" width="21.5" height="13" fill="#fde38a" shape-rendering="crispEdges" />
<path d="M460 1069 v-5 h13 v5 h-3 v-3 h-7 v3z" stroke="none" fill="#31a8e8" stroke-width="1" />
<circle cx="515.6" cy="1059.8" r="11" fill="#db4437"/>
<path d="M515.6 1059.8 L506 1065.3 A11 11 0 0 1 506.1 1054.3z" stroke="none" fill="#0f9d58" stroke-width="1" />
<path d="M515.6 1059.8 L506.1 1054.3 A11 11 0 0 0 506 1065.3z" stroke="none" fill="#0f9d58" stroke-width="1" />
<path d="M515.6 1059.8 L521.1 1069.3 A11 11 0 0 1 504.6 1059.8 A11 11 0 0 1 506 1065.3z" stroke="none" fill="#0f9d58" stroke-width="1" />
<path d="M515.6 1059.8 L526.6 1059.8 A11 11 0 0 1 515.6 1070.8 z" stroke="none" fill="#ffcd40" stroke-width="1" />
<path d="M515.6 1059.8 L526.6 1059.8 A11 11 0 0 1 521.1 1069.3 z" stroke="none" fill="#ffcd40" stroke-width="1" />
<circle cx="515.6" cy="1059.8" r="5" fill="#fff"/><circle cx="515.6" cy="1059.8" r="4" fill="#4285f4"/>
<rect x="541" y="1040" width="44" height="40" fill="#333333" shape-rendering="crispEdges" />
<rect x="585" y="1040" width="1" height="40" fill="#1a1a1a" shape-rendering="crispEdges" />
<rect x="586" y="1040" width="3" height="40" fill="#2b2b2b" shape-rendering="crispEdges" />
<path d="M558 1049 h14 v4 h-9 v5 h7 v3.5 h-7 v6 h9.5 v4 h-14.5 z" stroke="none" fill="#e0882a" stroke-width="1" />
<path d="M558 1049 q-3 11 0 22.5 h3 q-3 -11 0 -22.5z" stroke="none" fill="#b5651d" stroke-width="1" />
<rect x="611.9000000000001" y="1049.5" width="3.6" height="5" fill="#fff" transform="rotate(0 613.7 1059.5)"/><rect x="611.9000000000001" y="1049.5" width="3.6" height="5" fill="#fff" transform="rotate(45 613.7 1059.5)"/><rect x="611.9000000000001" y="1049.5" width="3.6" height="5" fill="#fff" transform="rotate(90 613.7 1059.5)"/><rect x="611.9000000000001" y="1049.5" width="3.6" height="5" fill="#fff" transform="rotate(135 613.7 1059.5)"/><rect x="611.9000000000001" y="1049.5" width="3.6" height="5" fill="#fff" transform="rotate(180 613.7 1059.5)"/><rect x="611.9000000000001" y="1049.5" width="3.6" height="5" fill="#fff" transform="rotate(225 613.7 1059.5)"/><rect x="611.9000000000001" y="1049.5" width="3.6" height="5" fill="#fff" transform="rotate(270 613.7 1059.5)"/><rect x="611.9000000000001" y="1049.5" width="3.6" height="5" fill="#fff" transform="rotate(315 613.7 1059.5)"/>
<circle cx="613.7" cy="1059.5" r="6.8" fill="#fff"/><circle cx="613.7" cy="1059.5" r="3.2" fill="#000"/>
<rect x="447.3" y="1078" width="39.69999999999999" height="2" fill="#9fb0bd" shape-rendering="crispEdges" />
<rect x="496" y="1078" width="39.799999999999955" height="2" fill="#9fb0bd" shape-rendering="crispEdges" />
<rect x="541" y="1078" width="44" height="2" fill="#9fb0bd" shape-rendering="crispEdges" />
<rect x="594" y="1078" width="40" height="2" fill="#9fb0bd" shape-rendering="crispEdges" />
<rect x="586" y="1078" width="3" height="2" fill="#9fb0bd" shape-rendering="crispEdges" />
<path d="M1609 1064 l6 -6 l6 6" stroke="#fff" fill="none" stroke-width="1.3" />
<path d="M1640 1056.5 h13 v8 h-13z M1653 1059 h1.5 v3 h-1.5" stroke="#fff" fill="none" stroke-width="1.1" />
<rect x="1641.5" y="1058" width="8" height="5" fill="#fff" shape-rendering="crispEdges" />
<path d="M1638.5 1054 v-2 M1641.5 1054 v-2 M1637.5 1054 h5 v2 a2.5 2.5 0 0 1 -5 0z" stroke="#fff" fill="none" stroke-width="1" />
<path d="M1683 1066 a3 3 0 0 1 3 -3" stroke="#fff" fill="none" stroke-width="1.1" />
<path d="M1679.5 1066 a6.5 6.5 0 0 1 6.5 -6.5" stroke="#fff" fill="none" stroke-width="1.1" />
<path d="M1676 1066 a10 10 0 0 1 10 -10" stroke="#fff" fill="none" stroke-width="1.1" />
<path d="M1672.5 1066 a13.5 13.5 0 0 1 13.5 -13.5" stroke="#fff" fill="none" stroke-width="1.1" />
<circle cx="1685.5" cy="1065.5" r="1.3" fill="#fff"/>
<path d="M1702 1057 h3 l4.5 -4 v13 l-4.5 -4 h-3z" stroke="#fff" fill="none" stroke-width="1.1" />
<path d="M1711.5 1056.5 a3.5 3.5 0 0 1 0 6 M1714 1054.5 a6.5 6.5 0 0 1 0 10 M1716.5 1052.5 a9.5 9.5 0 0 1 0 14" stroke="#fff" fill="none" stroke-width="1" />
<rect x="1735.5" y="1053.5" width="22" height="12" fill="none" shape-rendering="crispEdges" stroke="#fff" stroke-width="1.2"/>
<rect x="1738.0" y="1056" width="1.2" height="1.2" fill="#fff" shape-rendering="crispEdges" />
<rect x="1740.2" y="1056" width="1.2" height="1.2" fill="#fff" shape-rendering="crispEdges" />
<rect x="1742.4" y="1056" width="1.2" height="1.2" fill="#fff" shape-rendering="crispEdges" />
<rect x="1744.6" y="1056" width="1.2" height="1.2" fill="#fff" shape-rendering="crispEdges" />
<rect x="1746.8" y="1056" width="1.2" height="1.2" fill="#fff" shape-rendering="crispEdges" />
<rect x="1749.0" y="1056" width="1.2" height="1.2" fill="#fff" shape-rendering="crispEdges" />
<rect x="1751.2" y="1056" width="1.2" height="1.2" fill="#fff" shape-rendering="crispEdges" />
<rect x="1753.4" y="1056" width="1.2" height="1.2" fill="#fff" shape-rendering="crispEdges" />
<rect x="1755.6" y="1056" width="1.2" height="1.2" fill="#fff" shape-rendering="crispEdges" />
<rect x="1738.0" y="1059" width="1.2" height="1.2" fill="#fff" shape-rendering="crispEdges" />
<rect x="1740.2" y="1059" width="1.2" height="1.2" fill="#fff" shape-rendering="crispEdges" />
<rect x="1742.4" y="1059" width="1.2" height="1.2" fill="#fff" shape-rendering="crispEdges" />
<rect x="1744.6" y="1059" width="1.2" height="1.2" fill="#fff" shape-rendering="crispEdges" />
<rect x="1746.8" y="1059" width="1.2" height="1.2" fill="#fff" shape-rendering="crispEdges" />
<rect x="1749.0" y="1059" width="1.2" height="1.2" fill="#fff" shape-rendering="crispEdges" />
<rect x="1751.2" y="1059" width="1.2" height="1.2" fill="#fff" shape-rendering="crispEdges" />
<rect x="1753.4" y="1059" width="1.2" height="1.2" fill="#fff" shape-rendering="crispEdges" />
<rect x="1755.6" y="1059" width="1.2" height="1.2" fill="#fff" shape-rendering="crispEdges" />
<rect x="1740" y="1062" width="13" height="1.2" fill="#fff" shape-rendering="crispEdges" />
<text x="1772.7" y="1065" font-size="13" fill="#fff" textLength="23.3" lengthAdjust="spacingAndGlyphs" >ENG</text>
<text x="1813.3" y="1055.5" font-size="12.5" fill="#fff" textLength="42.7" lengthAdjust="spacingAndGlyphs" >2:39 PM</text>
<text x="1811.7" y="1073" font-size="12.5" fill="#fff" textLength="46.6" lengthAdjust="spacingAndGlyphs" >3/2/2017</text>
<path d="M1879 1053 h16 v12 h-7 l-3 3.5 v-3.5 h-6z" stroke="#fff" fill="none" stroke-width="1.2" />
<rect x="1915" y="1040" width="1" height="40" fill="#444" shape-rendering="crispEdges" />
<defs><clipPath id="thc"><rect x="62" y="165" width="206" height="155"/></clipPath></defs>
<g clip-path="url(#thc)"><rect x="142.63" y="230.03" width="6.50" height="3.41" fill="#6b86a3"/><rect x="140.62" y="198.82" width="3.49" height="6.01" fill="#6b86a3"/><rect x="139.88" y="212.40" width="3.53" height="4.78" fill="#6b86a3"/><rect x="148.38" y="212.57" width="3.53" height="4.15" fill="#6b86a3"/><rect x="163.44" y="230.03" width="6.56" height="3.41" fill="#6b86a3"/><rect x="167.83" y="213.97" width="3.42" height="5.98" fill="#6b86a3"/><rect x="170.05" y="204.29" width="3.53" height="15.57" fill="#6b86a3"/><rect x="175.26" y="202.50" width="4.37" height="3.41" fill="#6b86a3"/><rect x="175.61" y="207.47" width="5.23" height="3.41" fill="#6b86a3"/><rect x="192.11" y="203.98" width="9.93" height="3.41" fill="#6b86a3"/><rect x="259.99" y="230.03" width="6.54" height="3.41" fill="#6b86a3"/><rect x="247.06" y="213.15" width="4.13" height="3.41" fill="#6b86a3"/><rect x="233.97" y="222.15" width="11.72" height="3.41" fill="#6b86a3"/><rect x="226.69" y="198.84" width="3.49" height="6.01" fill="#6b86a3"/><rect x="227.84" y="217.32" width="3.63" height="4.32" fill="#6b86a3"/><rect x="232.61" y="216.42" width="3.67" height="4.80" fill="#6b86a3"/><rect x="91.81" y="221.48" width="5.18" height="3.46" fill="#6b86a3"/><rect x="87.91" y="224.66" width="7.74" height="3.45" fill="#6b86a3"/><rect x="87.91" y="227.21" width="5.76" height="3.45" fill="#6b86a3"/><rect x="87.91" y="229.91" width="5.90" height="3.45" fill="#6b86a3"/><rect x="111.28" y="224.68" width="6.02" height="3.45" fill="#6b86a3"/><rect x="111.28" y="227.22" width="7.55" height="3.45" fill="#6b86a3"/><rect x="111.28" y="229.96" width="6.56" height="3.45" fill="#6b86a3"/><rect x="61.75" y="263.46" width="6.49" height="3.45" fill="#6b86a3"/><rect x="61.75" y="266.19" width="5.99" height="3.45" fill="#6b86a3"/><rect x="61.75" y="268.76" width="5.99" height="3.45" fill="#6b86a3"/><rect x="61.75" y="271.32" width="4.59" height="3.45" fill="#6b86a3"/><rect x="61.75" y="273.89" width="4.42" height="3.45" fill="#6b86a3"/><rect x="61.75" y="276.45" width="5.99" height="3.45" fill="#6b86a3"/><rect x="70.92" y="261.80" width="9.07" height="3.45" fill="#6b86a3"/><rect x="70.47" y="279.31" width="9.98" height="3.45" fill="#6b86a3"/><rect x="112.09" y="255.82" width="3.49" height="5.98" fill="#6b86a3"/><rect x="126.92" y="266.19" width="6.09" height="3.45" fill="#6b86a3"/><rect x="126.92" y="279.04" width="6.59" height="3.45" fill="#6b86a3"/><rect x="113.86" y="284.41" width="6.50" height="3.45" fill="#6b86a3"/><rect x="145.25" y="244.73" width="5.27" height="3.41" fill="#6b86a3"/><rect x="145.25" y="284.41" width="18.95" height="3.45" fill="#6b86a3"/><rect x="205.16" y="248.07" width="6.01" height="3.45" fill="#6b86a3"/><rect x="200.10" y="260.89" width="9.88" height="3.45" fill="#6b86a3"/><rect x="200.10" y="263.46" width="7.57" height="3.45" fill="#6b86a3"/><rect x="200.10" y="266.19" width="7.76" height="3.45" fill="#6b86a3"/><rect x="200.10" y="268.76" width="5.75" height="3.45" fill="#6b86a3"/><rect x="200.10" y="271.32" width="11.72" height="3.45" fill="#6b86a3"/><rect x="200.10" y="276.45" width="4.39" height="3.45" fill="#6b86a3"/><rect x="200.10" y="279.02" width="4.65" height="3.45" fill="#6b86a3"/><rect x="208.50" y="222.16" width="3.49" height="5.98" fill="#6b86a3"/><rect x="209.68" y="229.45" width="3.53" height="10.29" fill="#6b86a3"/><rect x="214.45" y="234.42" width="3.49" height="4.90" fill="#6b86a3"/><rect x="212.97" y="259.85" width="5.92" height="3.41" fill="#6b86a3"/><rect x="215.78" y="274.03" width="6.50" height="3.41" fill="#6b86a3"/><rect x="220.92" y="271.41" width="15.99" height="3.41" fill="#6b86a3"/><g transform="translate(-26.997 147.158) scale(0.1721 0.171)" shape-rendering="crispEdges"><path d="M1006.5 316 L1006.5 333" stroke="#8c4a6c" stroke-width="1" fill="none"  vector-effect="non-scaling-stroke"/><path d="M998.0 329.5 L1006.5 317.5 L1014.5 329.5" stroke="#8c4a6c" stroke-width="1" fill="none"  vector-effect="non-scaling-stroke"/><path d="M1003.5 318.5 L1009.5 318.5" stroke="#8c4a6c" stroke-width="1" fill="none"  vector-effect="non-scaling-stroke"/><path d="M1006.5 333 L1006.5 378.5" stroke="#2a9a52" stroke-width="1" fill="none"  vector-effect="non-scaling-stroke"/><path d="M1006.5 378.5 L1006.5 424" stroke="#8c4a6c" stroke-width="1" fill="none"  vector-effect="non-scaling-stroke"/><path d="M990 393.7 L1022 393.7" stroke="#8c4a6c" stroke-width="1" fill="none"  vector-effect="non-scaling-stroke"/><path d="M990.5 405 Q1006 396.5 1021.5 405" stroke="#8c4a6c" stroke-width="1" fill="none" vector-effect="non-scaling-stroke"/><path d="M1006.5 424 L1006.5 470" stroke="#2a9a52" stroke-width="1" fill="none"  vector-effect="non-scaling-stroke"/><path d="M1006.5 470 L1006.5 484" stroke="#8c4a6c" stroke-width="1" fill="none"  vector-effect="non-scaling-stroke"/><path d="M993 484 L1018 484" stroke="#8c4a6c" stroke-width="1" fill="none"  vector-effect="non-scaling-stroke"/><path d="M1006.5 470 L1006.5 488.5" stroke="#8c4a6c" stroke-width="1" fill="none"  vector-effect="non-scaling-stroke"/><path d="M1127.5 348.5 L1174 348.5" stroke="#2a9a52" stroke-width="1" fill="none"  vector-effect="non-scaling-stroke"/><path d="M1127.5 348.5 L1127.5 378.5" stroke="#2a9a52" stroke-width="1" fill="none"  vector-effect="non-scaling-stroke"/><path d="M1174 348.5 L1187.5 348.5" stroke="#8c4a6c" stroke-width="1" fill="none"  vector-effect="non-scaling-stroke"/><path d="M1187.5 348.5 L1189.8 343.1 L1194.0 353.9 L1198.0 343.1 L1201.4 353.9 L1205.0 343.1 L1209.0 353.9 L1213.0 343.1 L1217.0 353.9 L1218.6 348.5" stroke="#8c4a6c" stroke-width="1" fill="none" stroke-linejoin="round" stroke-linecap="round" vector-effect="non-scaling-stroke"/><path d="M1218.6 348.5 L1233 348.5" stroke="#8c4a6c" stroke-width="1" fill="none"  vector-effect="non-scaling-stroke"/><path d="M1233 348.5 L1279.5 348.5" stroke="#2a9a52" stroke-width="1" fill="none"  vector-effect="non-scaling-stroke"/><path d="M1127.5 378.5 L1127.5 424" stroke="#8c4a6c" stroke-width="1" fill="none"  vector-effect="non-scaling-stroke"/><path d="M1119.3 393.8 H1135.8 L1127.5 407.8 Z" stroke="#8c4a6c" stroke-width="1" fill="none" stroke-linejoin="miter" vector-effect="non-scaling-stroke"/><path d="M1119.3 408.6 L1135.8 408.6" stroke="#8c4a6c" stroke-width="1" fill="none"  vector-effect="non-scaling-stroke"/><path d="M1115.8 398 L1109.5 404.5" stroke="#8c4a6c" stroke-width="1" fill="none"  vector-effect="non-scaling-stroke"/><path d="M1107.2 407.6 l1.2 -5 l3.8 3.6z" fill="#8c4a6c" vector-effect="non-scaling-stroke"/><path d="M1116.6 405.4 L1109.5 411.5" stroke="#8c4a6c" stroke-width="1" fill="none"  vector-effect="non-scaling-stroke"/><path d="M1106.8 414 l1.2 -5 l3.8 3.6z" fill="#8c4a6c" vector-effect="non-scaling-stroke"/><path d="M1127.5 424 L1127.5 470" stroke="#2a9a52" stroke-width="1" fill="none"  vector-effect="non-scaling-stroke"/><path d="M1127.5 470 L1127.5 484" stroke="#8c4a6c" stroke-width="1" fill="none"  vector-effect="non-scaling-stroke"/><path d="M1115 484 L1139.5 484" stroke="#8c4a6c" stroke-width="1" fill="none"  vector-effect="non-scaling-stroke"/><path d="M1127.5 470 L1127.5 488.5" stroke="#8c4a6c" stroke-width="1" fill="none"  vector-effect="non-scaling-stroke"/><path d="M1506.5 316.3 L1506.5 333.3" stroke="#8c4a6c" stroke-width="1" fill="none"  vector-effect="non-scaling-stroke"/><path d="M1498.0 329.8 L1506.5 317.8 L1514.5 329.8" stroke="#8c4a6c" stroke-width="1" fill="none"  vector-effect="non-scaling-stroke"/><path d="M1503.5 318.8 L1509.5 318.8" stroke="#8c4a6c" stroke-width="1" fill="none"  vector-effect="non-scaling-stroke"/><path d="M1506.5 333.3 L1506.5 377.8" stroke="#2a9a52" stroke-width="1" fill="none"  vector-effect="non-scaling-stroke"/><path d="M1506.5 377.8 L1506.5 393.3" stroke="#b03050" stroke-width="1" fill="none"  vector-effect="non-scaling-stroke"/><path d="M1506.5 393.3 L1512.4 395.6 L1500.6 399.8 L1512.4 403.8 L1500.6 407.2 L1512.4 410.8 L1500.6 414.8 L1512.4 418.8 L1500.6 422.8 L1506.5 424.4" stroke="#b03050" stroke-width="1" fill="none" stroke-linejoin="round" stroke-linecap="round" vector-effect="non-scaling-stroke"/><path d="M1506.5 424.4 L1506.5 439.5" stroke="#b03050" stroke-width="1" fill="none"  vector-effect="non-scaling-stroke"/><path d="M1506.5 439.5 L1582.5 439.5" stroke="#2a9a52" stroke-width="1" fill="none"  vector-effect="non-scaling-stroke"/><path d="M1582.5 439.5 L1597.6 439.5 L1597.6 454.6 L1582.5 454.6" stroke="#8c4a6c" stroke-width="1" fill="none"  vector-effect="non-scaling-stroke"/><path d="M1582.5 439.5 L1582.5 454.6" stroke="#2a9a52" stroke-width="1" fill="none"  vector-effect="non-scaling-stroke"/><path d="M1597.6 439.2 L1624.3 430.5" stroke="#8c4a6c" stroke-width="1" fill="none"  vector-effect="non-scaling-stroke"/><circle cx="1597.8" cy="439.2" r="1.6" fill="#8c4a6c" vector-effect="non-scaling-stroke"/><path d="M1612.5 413.7 L1612.5 434.8" stroke="#8c4a6c" stroke-width="1" fill="none" stroke-dasharray="3 2" vector-effect="non-scaling-stroke"/><path d="M1601 420.3 L1601 412.5 L1624.3 412.5 L1624.3 420.3" stroke="#8c4a6c" stroke-width="1" fill="none"  vector-effect="non-scaling-stroke"/><path d="M1623.1 438.8 L1627.3 438.8" stroke="#8c4a6c" stroke-width="1" fill="none"  vector-effect="non-scaling-stroke"/><circle cx="1627.3" cy="439.2" r="1.6" fill="#8c4a6c" vector-effect="non-scaling-stroke"/><path d="M1627.3 439.5 L1643.5 439.5" stroke="#8c4a6c" stroke-width="1" fill="none"  vector-effect="non-scaling-stroke"/><path d="M1627.3 439.5 L1627.3 454.6 L1643.5 454.6" stroke="#8c4a6c" stroke-width="1" fill="none"  vector-effect="non-scaling-stroke"/><path d="M1643.5 439.5 L1643.5 454.6" stroke="#2a9a52" stroke-width="1" fill="none"  vector-effect="non-scaling-stroke"/><path d="M1643.5 439.5 L1688.5 439.5 L1688.5 470" stroke="#2a9a52" stroke-width="1" fill="none"  vector-effect="non-scaling-stroke"/><path d="M1688.5 470 L1688.5 484" stroke="#8c4a6c" stroke-width="1" fill="none"  vector-effect="non-scaling-stroke"/><path d="M1676 484 L1700 484" stroke="#8c4a6c" stroke-width="1" fill="none"  vector-effect="non-scaling-stroke"/><path d="M1688.5 470 L1688.5 488.5" stroke="#8c4a6c" stroke-width="1" fill="none"  vector-effect="non-scaling-stroke"/><circle cx="1582.5" cy="439.5" r="3.6" fill="#2a9a52" vector-effect="non-scaling-stroke"/><circle cx="1643.5" cy="439.5" r="3.6" fill="#2a9a52" vector-effect="non-scaling-stroke"/><rect x="695.5" y="454.5" width="91" height="61" fill="none" stroke="#8c4a6c" stroke-width="1" vector-effect="non-scaling-stroke"/><path d="M672.5 469.5 L719.5 469.5" stroke="#2a9a52" stroke-width="1" fill="none"  vector-effect="non-scaling-stroke"/><path d="M719.5 469.5 L721.2 469.5" stroke="#8c4a6c" stroke-width="1" fill="none"  vector-effect="non-scaling-stroke"/><path d="M760.8 469.5 L763 469.5" stroke="#8c4a6c" stroke-width="1" fill="none"  vector-effect="non-scaling-stroke"/><path d="M763 469.5 L810 469.5" stroke="#2a9a52" stroke-width="1" fill="none"  vector-effect="non-scaling-stroke"/><path d="M733.7 472.07 L730.07 475.7 L724.93 475.7 L721.3 472.07 L721.3 466.93 L724.93 463.3 L730.07 463.3 L733.7 466.93 L733.7 472.07" stroke="#8c4a6c" stroke-width="1" fill="none"  vector-effect="non-scaling-stroke"/><path d="M760.6 472.07 L756.97 475.7 L751.83 475.7 L748.2 472.07 L748.2 466.93 L751.83 463.3 L756.97 463.3 L760.6 466.93 L760.6 472.07" stroke="#8c4a6c" stroke-width="1" fill="none"  vector-effect="non-scaling-stroke"/><path d="M672.5 484.5 L719.5 484.5" stroke="#2a9a52" stroke-width="1" fill="none"  vector-effect="non-scaling-stroke"/><path d="M719.5 484.5 L721.2 484.5" stroke="#8c4a6c" stroke-width="1" fill="none"  vector-effect="non-scaling-stroke"/><path d="M760.8 484.5 L763 484.5" stroke="#8c4a6c" stroke-width="1" fill="none"  vector-effect="non-scaling-stroke"/><path d="M763 484.5 L810 484.5" stroke="#2a9a52" stroke-width="1" fill="none"  vector-effect="non-scaling-stroke"/><path d="M733.7 487.07 L730.07 490.7 L724.93 490.7 L721.3 487.07 L721.3 481.93 L724.93 478.3 L730.07 478.3 L733.7 481.93 L733.7 487.07" stroke="#8c4a6c" stroke-width="1" fill="none"  vector-effect="non-scaling-stroke"/><path d="M760.6 487.07 L756.97 490.7 L751.83 490.7 L748.2 487.07 L748.2 481.93 L751.83 478.3 L756.97 478.3 L760.6 481.93 L760.6 487.07" stroke="#8c4a6c" stroke-width="1" fill="none"  vector-effect="non-scaling-stroke"/><path d="M672.5 500.5 L719.5 500.5" stroke="#2a9a52" stroke-width="1" fill="none"  vector-effect="non-scaling-stroke"/><path d="M719.5 500.5 L721.2 500.5" stroke="#8c4a6c" stroke-width="1" fill="none"  vector-effect="non-scaling-stroke"/><path d="M760.8 500.5 L763 500.5" stroke="#8c4a6c" stroke-width="1" fill="none"  vector-effect="non-scaling-stroke"/><path d="M763 500.5 L810 500.5" stroke="#2a9a52" stroke-width="1" fill="none"  vector-effect="non-scaling-stroke"/><path d="M733.7 503.07 L730.07 506.7 L724.93 506.7 L721.3 503.07 L721.3 497.93 L724.93 494.3 L730.07 494.3 L733.7 497.93 L733.7 503.07" stroke="#8c4a6c" stroke-width="1" fill="none"  vector-effect="non-scaling-stroke"/><path d="M760.6 503.07 L756.97 506.7 L751.83 506.7 L748.2 503.07 L748.2 497.93 L751.83 494.3 L756.97 494.3 L760.6 497.93 L760.6 503.07" stroke="#8c4a6c" stroke-width="1" fill="none"  vector-effect="non-scaling-stroke"/><path d="M729.8 484.5 L736.8 484.5" stroke="#8c4a6c" stroke-width="1" fill="none"  vector-effect="non-scaling-stroke"/><path d="M733.3 481.0 L733.3 488.0" stroke="#8c4a6c" stroke-width="1" fill="none"  vector-effect="non-scaling-stroke"/><path d="M521.5 696.5 L551.8 696.5" stroke="#2a9a52" stroke-width="1" fill="none"  vector-effect="non-scaling-stroke"/><path d="M551.8 696.5 L582 696.5" stroke="#8c4a6c" stroke-width="1" fill="none"  vector-effect="non-scaling-stroke"/><path d="M521.5 712.5 L551.8 712.5" stroke="#2a9a52" stroke-width="1" fill="none"  vector-effect="non-scaling-stroke"/><path d="M551.8 712.5 L582 712.5" stroke="#8c4a6c" stroke-width="1" fill="none"  vector-effect="non-scaling-stroke"/><path d="M521.5 727.5 L551.8 727.5" stroke="#2a9a52" stroke-width="1" fill="none"  vector-effect="non-scaling-stroke"/><path d="M551.8 727.5 L582 727.5" stroke="#8c4a6c" stroke-width="1" fill="none"  vector-effect="non-scaling-stroke"/><path d="M521.5 742.5 L551.8 742.5" stroke="#2a9a52" stroke-width="1" fill="none"  vector-effect="non-scaling-stroke"/><path d="M551.8 742.5 L582 742.5" stroke="#8c4a6c" stroke-width="1" fill="none"  vector-effect="non-scaling-stroke"/><path d="M521.5 757.5 L551.8 757.5" stroke="#2a9a52" stroke-width="1" fill="none"  vector-effect="non-scaling-stroke"/><path d="M551.8 757.5 L582 757.5" stroke="#8c4a6c" stroke-width="1" fill="none"  vector-effect="non-scaling-stroke"/><path d="M521.5 772.5 L551.8 772.5" stroke="#2a9a52" stroke-width="1" fill="none"  vector-effect="non-scaling-stroke"/><path d="M551.8 772.5 L582 772.5" stroke="#8c4a6c" stroke-width="1" fill="none"  vector-effect="non-scaling-stroke"/><path d="M551.5 768.9 L551.5 775.7" stroke="#8c4a6c" stroke-width="1" fill="none"  vector-effect="non-scaling-stroke"/><rect x="566" y="671" width="61" height="125" fill="none" stroke="#8c4a6c" stroke-width="1" vector-effect="non-scaling-stroke"/><path d="M839.5 648.5 L839.5 665.5" stroke="#8c4a6c" stroke-width="1" fill="none"  vector-effect="non-scaling-stroke"/><path d="M831.0 662.0 L839.5 650.0 L847.5 662.0" stroke="#8c4a6c" stroke-width="1" fill="none"  vector-effect="non-scaling-stroke"/><path d="M836.5 651.0 L842.5 651.0" stroke="#8c4a6c" stroke-width="1" fill="none"  vector-effect="non-scaling-stroke"/><path d="M839.5 665.5 L839.5 712.5 L977 712.5" stroke="#2a9a52" stroke-width="1" fill="none"  vector-effect="non-scaling-stroke"/><path d="M977 712.5 L1006 712.5" stroke="#8c4a6c" stroke-width="1" fill="none"  vector-effect="non-scaling-stroke"/><path d="M977 787.5 L839.5 787.5 L839.5 789" stroke="#2a9a52" stroke-width="1" fill="none"  vector-effect="non-scaling-stroke"/><path d="M977 787.5 L1006 787.5" stroke="#8c4a6c" stroke-width="1" fill="none"  vector-effect="non-scaling-stroke"/><path d="M827 802 L851.5 802" stroke="#8c4a6c" stroke-width="1" fill="none"  vector-effect="non-scaling-stroke"/><path d="M839.5 788 L839.5 806.5" stroke="#8c4a6c" stroke-width="1" fill="none"  vector-effect="non-scaling-stroke"/><path d="M839.5 789 L839.5 802" stroke="#8c4a6c" stroke-width="1" fill="none"  vector-effect="non-scaling-stroke"/><path d="M1018.2 696.5 L1024.2 696.5" stroke="#8c4a6c" stroke-width="1" fill="none"  vector-effect="non-scaling-stroke"/><path d="M1021.2 693.5 L1021.2 699.5" stroke="#8c4a6c" stroke-width="1" fill="none"  vector-effect="non-scaling-stroke"/><path d="M1294 606.5 L1324 606.5" stroke="#8c4a6c" stroke-width="1" fill="none"  vector-effect="non-scaling-stroke"/><path d="M1294 621.5 L1324 621.5" stroke="#8c4a6c" stroke-width="1" fill="none"  vector-effect="non-scaling-stroke"/><path d="M1294 636.5 L1324 636.5" stroke="#8c4a6c" stroke-width="1" fill="none"  vector-effect="non-scaling-stroke"/><path d="M1294 651.5 L1324 651.5" stroke="#8c4a6c" stroke-width="1" fill="none"  vector-effect="non-scaling-stroke"/><path d="M1294 681.5 L1324 681.5" stroke="#8c4a6c" stroke-width="1" fill="none"  vector-effect="non-scaling-stroke"/><path d="M1294 696.5 L1324 696.5" stroke="#8c4a6c" stroke-width="1" fill="none"  vector-effect="non-scaling-stroke"/><path d="M1294 712.5 L1324 712.5" stroke="#8c4a6c" stroke-width="1" fill="none"  vector-effect="non-scaling-stroke"/><path d="M1294 727.5 L1324 727.5" stroke="#8c4a6c" stroke-width="1" fill="none"  vector-effect="non-scaling-stroke"/><path d="M1294 742.5 L1324 742.5" stroke="#8c4a6c" stroke-width="1" fill="none"  vector-effect="non-scaling-stroke"/><path d="M1294 757.5 L1324 757.5" stroke="#8c4a6c" stroke-width="1" fill="none"  vector-effect="non-scaling-stroke"/><path d="M1294 772.5 L1324 772.5" stroke="#8c4a6c" stroke-width="1" fill="none"  vector-effect="non-scaling-stroke"/><path d="M1294 787.5 L1324 787.5" stroke="#8c4a6c" stroke-width="1" fill="none"  vector-effect="non-scaling-stroke"/><rect x="1006" y="590" width="288" height="212" fill="none" stroke="#8c4a6c" stroke-width="1" vector-effect="non-scaling-stroke"/><path d="M1324 606.5 L1400.5 606.5 L1400.5 544.7" stroke="#2a9a52" stroke-width="1" fill="none"  vector-effect="non-scaling-stroke"/><path d="M1324 636.5 L1491.5 636.5 L1491.5 696.5 L1476.2 696.5" stroke="#2a9a52" stroke-width="1" fill="none"  vector-effect="non-scaling-stroke"/><path d="M1324 651.5 L1385.5 651.5 L1385.5 696.5" stroke="#2a9a52" stroke-width="1" fill="none"  vector-effect="non-scaling-stroke"/><path d="M1324 681.5 L1356 681.5" stroke="#2a9a52" stroke-width="1" fill="none"  vector-effect="non-scaling-stroke"/><path d="M1324 696.5 L1356 696.5" stroke="#2a9a52" stroke-width="1" fill="none"  vector-effect="non-scaling-stroke"/><path d="M1324 712.5 L1356 712.5" stroke="#2a9a52" stroke-width="1" fill="none"  vector-effect="non-scaling-stroke"/><path d="M1324 727.5 L1356 727.5" stroke="#2a9a52" stroke-width="1" fill="none"  vector-effect="non-scaling-stroke"/><path d="M1324 742.5 L1356 742.5" stroke="#2a9a52" stroke-width="1" fill="none"  vector-effect="non-scaling-stroke"/><path d="M1324 772.5 L1356 772.5" stroke="#2a9a52" stroke-width="1" fill="none"  vector-effect="non-scaling-stroke"/><path d="M1324 787.5 L1370.8 787.5" stroke="#2a9a52" stroke-width="1" fill="none"  vector-effect="non-scaling-stroke"/><path d="M1400.5 451.8 L1400.5 468.8" stroke="#8c4a6c" stroke-width="1" fill="none"  vector-effect="non-scaling-stroke"/><path d="M1392.0 465.3 L1400.5 453.3 L1408.5 465.3" stroke="#8c4a6c" stroke-width="1" fill="none"  vector-effect="non-scaling-stroke"/><path d="M1397.5 454.3 L1403.5 454.3" stroke="#8c4a6c" stroke-width="1" fill="none"  vector-effect="non-scaling-stroke"/><path d="M1400.5 469.1 L1400.5 484.9" stroke="#2a9a52" stroke-width="1" fill="none"  vector-effect="non-scaling-stroke"/><path d="M1400.5 484.9 L1400.5 499" stroke="#8c4a6c" stroke-width="1" fill="none"  vector-effect="non-scaling-stroke"/><path d="M1400.5 499 L1406.4 501.34 L1394.6 505.6 L1406.4 509.67 L1394.6 513.12 L1406.4 516.78 L1394.6 520.85 L1406.4 524.91 L1394.6 528.97 L1400.5 530.6" stroke="#8c4a6c" stroke-width="1" fill="none" stroke-linejoin="round" stroke-linecap="round" vector-effect="non-scaling-stroke"/><path d="M1400.5 530.6 L1400.5 544.7" stroke="#8c4a6c" stroke-width="1" fill="none"  vector-effect="non-scaling-stroke"/><path d="M1385.5 696.5 L1408.5 696.5" stroke="#8c4a6c" stroke-width="1" fill="none"  vector-effect="non-scaling-stroke"/><circle cx="1408.5" cy="696.5" r="2.6" fill="#8c4a6c" vector-effect="non-scaling-stroke"/><path d="M1408.5 696.5 L1423.3 696.5" stroke="#8c4a6c" stroke-width="1" fill="none"  vector-effect="non-scaling-stroke"/><path d="M1423.5 689.1 L1423.5 704.9" stroke="#8c4a6c" stroke-width="1" fill="none"  vector-effect="non-scaling-stroke"/><rect x="1427.5" y="689.6" width="6.2" height="15" fill="none" stroke="#8c4a6c" stroke-width="1" vector-effect="non-scaling-stroke"/><path d="M1430.5 692.5 L1430.5 701.5" stroke="#8c4a6c" stroke-width="1" fill="none"  vector-effect="non-scaling-stroke"/><path d="M1428.5 697 L1432.5 697" stroke="#8c4a6c" stroke-width="1" fill="none"  vector-effect="non-scaling-stroke"/><path d="M1438.5 689.1 L1438.5 704.9" stroke="#8c4a6c" stroke-width="1" fill="none"  vector-effect="non-scaling-stroke"/><path d="M1438.5 696.5 L1453.5 696.5" stroke="#8c4a6c" stroke-width="1" fill="none"  vector-effect="non-scaling-stroke"/><circle cx="1453.5" cy="696.5" r="2.6" fill="#8c4a6c" vector-effect="non-scaling-stroke"/><path d="M1453.5 696.5 L1476.2 696.5" stroke="#8c4a6c" stroke-width="1" fill="none"  vector-effect="non-scaling-stroke"/><path d="M1408.5 696.5 L1408.5 716.5 L1415.5 716.5" stroke="#8c4a6c" stroke-width="1" fill="none"  vector-effect="non-scaling-stroke"/><path d="M1415.5 710 L1415.5 722.7" stroke="#8c4a6c" stroke-width="1" fill="none"  vector-effect="non-scaling-stroke"/><path d="M1420.5 710 L1420.5 722.7" stroke="#8c4a6c" stroke-width="1" fill="none"  vector-effect="non-scaling-stroke"/><path d="M1420.5 716.5 L1441.5 716.5" stroke="#8c4a6c" stroke-width="1" fill="none"  vector-effect="non-scaling-stroke"/><circle cx="1430.5" cy="716.5" r="2.6" fill="#8c4a6c" vector-effect="non-scaling-stroke"/><path d="M1441.5 710 L1441.5 722.7" stroke="#8c4a6c" stroke-width="1" fill="none"  vector-effect="non-scaling-stroke"/><path d="M1445.5 710 L1445.5 722.7" stroke="#8c4a6c" stroke-width="1" fill="none"  vector-effect="non-scaling-stroke"/><path d="M1445.5 716.5 L1453.5 716.5 L1453.5 696.5" stroke="#8c4a6c" stroke-width="1" fill="none"  vector-effect="non-scaling-stroke"/><path d="M1430.5 716.5 L1430.5 745.2" stroke="#8c4a6c" stroke-width="1" fill="none"  vector-effect="non-scaling-stroke"/><path d="M1418.2 741.8 L1442.6 741.8" stroke="#8c4a6c" stroke-width="1" fill="none"  vector-effect="non-scaling-stroke"/><rect x="1400" y="681" width="61" height="46" fill="none" stroke="#8c4a6c" stroke-width="1" vector-effect="non-scaling-stroke"/></g></g>
<rect x="724" y="969" width="1" height="1" fill="#000" shape-rendering="crispEdges" />
<rect x="726" y="969" width="1" height="1" fill="#000" shape-rendering="crispEdges" />
<rect x="728" y="969" width="1" height="1" fill="#000" shape-rendering="crispEdges" />
<rect x="730" y="969" width="1" height="1" fill="#000" shape-rendering="crispEdges" />
<rect x="732" y="969" width="1" height="1" fill="#000" shape-rendering="crispEdges" />
<rect x="734" y="969" width="1" height="1" fill="#000" shape-rendering="crispEdges" />
<rect x="736" y="969" width="1" height="1" fill="#000" shape-rendering="crispEdges" />
<rect x="738" y="969" width="1" height="1" fill="#000" shape-rendering="crispEdges" />
<rect x="740" y="969" width="1" height="1" fill="#000" shape-rendering="crispEdges" />
<rect x="742" y="969" width="1" height="1" fill="#000" shape-rendering="crispEdges" />
<rect x="733" y="960" width="1" height="1" fill="#000" shape-rendering="crispEdges" />
<rect x="733" y="962" width="1" height="1" fill="#000" shape-rendering="crispEdges" />
<rect x="733" y="964" width="1" height="1" fill="#000" shape-rendering="crispEdges" />
<rect x="733" y="966" width="1" height="1" fill="#000" shape-rendering="crispEdges" />
<rect x="733" y="968" width="1" height="1" fill="#000" shape-rendering="crispEdges" />
<rect x="733" y="970" width="1" height="1" fill="#000" shape-rendering="crispEdges" />
<rect x="733" y="972" width="1" height="1" fill="#000" shape-rendering="crispEdges" />
<rect x="733" y="974" width="1" height="1" fill="#000" shape-rendering="crispEdges" />
<rect x="733" y="976" width="1" height="1" fill="#000" shape-rendering="crispEdges" />
<g id="sch">
<path d="M1006.5 316 L1006.5 333" stroke="#a54b4b" stroke-width="1" fill="none" />
<path d="M998.0 329.5 L1006.5 317.5 L1014.5 329.5" stroke="#a54b4b" stroke-width="2" fill="none" />
<path d="M1003.5 318.5 L1009.5 318.5" stroke="#a54b4b" stroke-width="1" fill="none" />
<path d="M1006.5 333 L1006.5 378.5" stroke="#4ca34c" stroke-width="1" fill="none" />
<path d="M1006.5 378.5 L1006.5 424" stroke="#a54b4b" stroke-width="1" fill="none" />
<path d="M990 393.7 L1022 393.7" stroke="#a54b4b" stroke-width="2" fill="none" />
<path d="M990.5 405 Q1006 396.5 1021.5 405" stroke="#a54b4b" stroke-width="2" fill="none"/>
<path d="M1006.5 424 L1006.5 470" stroke="#4ca34c" stroke-width="1" fill="none" />
<path d="M1006.5 470 L1006.5 484" stroke="#a54b4b" stroke-width="1" fill="none" />
<path d="M993 484 L1018 484" stroke="#a54b4b" stroke-width="2" fill="none" />
<path d="M1006.5 470 L1006.5 488.5" stroke="#a54b4b" stroke-width="1" fill="none" />
<text x="989.63" y="499.9" font-size="15.41" fill="#8a8a8a" textLength="29.82" lengthAdjust="spacingAndGlyphs">GND</text>
<text x="989.6" y="332.65" font-size="15.99" fill="#8a8a8a" textLength="26.33" lengthAdjust="spacingAndGlyphs" transform="rotate(-90 989.6 332.65)">VCC</text>
<text x="985.5" y="405.88" font-size="16.28" fill="#8a8a8a" textLength="19.66" lengthAdjust="spacingAndGlyphs" transform="rotate(-90 985.5 405.88)">1uf</text>
<text x="1034.9" y="402.74" font-size="16.28" fill="#8a8a8a" textLength="16.16" lengthAdjust="spacingAndGlyphs" transform="rotate(-90 1034.9 402.74)">C1</text>
<path d="M1127.5 348.5 L1174 348.5" stroke="#4ca34c" stroke-width="1" fill="none" />
<path d="M1127.5 348.5 L1127.5 378.5" stroke="#4ca34c" stroke-width="1" fill="none" />
<path d="M1174 348.5 L1187.5 348.5" stroke="#a54b4b" stroke-width="1" fill="none" />
<path d="M1187.5 348.5 L1189.8 343.1 L1194.0 353.9 L1198.0 343.1 L1201.4 353.9 L1205.0 343.1 L1209.0 353.9 L1213.0 343.1 L1217.0 353.9 L1218.6 348.5" stroke="#a54b4b" stroke-width="2" fill="none" stroke-linejoin="round" stroke-linecap="round"/>
<path d="M1218.6 348.5 L1233 348.5" stroke="#a54b4b" stroke-width="1" fill="none" />
<path d="M1233 348.5 L1279.5 348.5" stroke="#4ca34c" stroke-width="1" fill="none" />
<path d="M1127.5 378.5 L1127.5 424" stroke="#a54b4b" stroke-width="1" fill="none" />
<path d="M1119.3 393.8 H1135.8 L1127.5 407.8 Z" stroke="#a54b4b" stroke-width="2" fill="none" stroke-linejoin="miter"/>
<path d="M1119.3 408.6 L1135.8 408.6" stroke="#a54b4b" stroke-width="2" fill="none" />
<path d="M1115.8 398 L1109.5 404.5" stroke="#a54b4b" stroke-width="1" fill="none" />
<path d="M1107.2 407.6 l1.2 -5 l3.8 3.6z" fill="#a54b4b"/>
<path d="M1116.6 405.4 L1109.5 411.5" stroke="#a54b4b" stroke-width="1" fill="none" />
<path d="M1106.8 414 l1.2 -5 l3.8 3.6z" fill="#a54b4b"/>
<path d="M1127.5 424 L1127.5 470" stroke="#4ca34c" stroke-width="1" fill="none" />
<path d="M1127.5 470 L1127.5 484" stroke="#a54b4b" stroke-width="1" fill="none" />
<path d="M1115 484 L1139.5 484" stroke="#a54b4b" stroke-width="2" fill="none" />
<path d="M1127.5 470 L1127.5 488.5" stroke="#a54b4b" stroke-width="1" fill="none" />
<text x="1110.52" y="499.9" font-size="15.41" fill="#8a8a8a" textLength="30.13" lengthAdjust="spacingAndGlyphs">GND</text>
<text x="1147.3" y="422.15" font-size="15.41" fill="#8a8a8a" textLength="27.41" lengthAdjust="spacingAndGlyphs" transform="rotate(-90 1147.3 422.15)">U$3</text>
<text x="1160.8" y="421.62" font-size="16.28" fill="#8a8a8a" textLength="83.42" lengthAdjust="spacingAndGlyphs" transform="rotate(-90 1160.8 421.62)">LEDFAB1206</text>
<text x="1178.75" y="338.9" font-size="15.41" fill="#8a8a8a" textLength="17.94" lengthAdjust="spacingAndGlyphs">R1</text>
<text x="1180.87" y="368.0" font-size="15.41" fill="#8a8a8a" textLength="22.67" lengthAdjust="spacingAndGlyphs">100</text>
<text x="1276.65" y="347.6" font-size="15.41" fill="#8a8a8a" textLength="50.70" lengthAdjust="spacingAndGlyphs">LEDPIN</text>
<path d="M1279.5 345 L1279.5 351.5" stroke="#8a8a8a" stroke-width="1" fill="none" />
<path d="M1279.5 348.5 L1283 348.5" stroke="#8a8a8a" stroke-width="1" fill="none" />
<path d="M1506.5 316.3 L1506.5 333.3" stroke="#a54b4b" stroke-width="1" fill="none" />
<path d="M1498.0 329.8 L1506.5 317.8 L1514.5 329.8" stroke="#a54b4b" stroke-width="2" fill="none" />
<path d="M1503.5 318.8 L1509.5 318.8" stroke="#a54b4b" stroke-width="1" fill="none" />
<path d="M1506.5 333.3 L1506.5 377.8" stroke="#4ca34c" stroke-width="1" fill="none" />
<path d="M1506.5 377.8 L1506.5 393.3" stroke="#e4222c" stroke-width="1" fill="none" />
<path d="M1506.5 393.3 L1512.4 395.6 L1500.6 399.8 L1512.4 403.8 L1500.6 407.2 L1512.4 410.8 L1500.6 414.8 L1512.4 418.8 L1500.6 422.8 L1506.5 424.4" stroke="#e4222c" stroke-width="2" fill="none" stroke-linejoin="round" stroke-linecap="round"/>
<path d="M1506.5 424.4 L1506.5 439.5" stroke="#e4222c" stroke-width="1" fill="none" />
<path d="M1506.5 439.5 L1582.5 439.5" stroke="#4ca34c" stroke-width="1" fill="none" />
<path d="M1582.5 439.5 L1597.6 439.5 L1597.6 454.6 L1582.5 454.6" stroke="#a54b4b" stroke-width="1" fill="none" />
<path d="M1582.5 439.5 L1582.5 454.6" stroke="#4ca34c" stroke-width="1" fill="none" />
<path d="M1597.6 439.2 L1624.3 430.5" stroke="#a54b4b" stroke-width="2" fill="none" />
<circle cx="1597.8" cy="439.2" r="1.6" fill="#a54b4b"/>
<path d="M1612.5 413.7 L1612.5 434.8" stroke="#a54b4b" stroke-width="1" fill="none" stroke-dasharray="3 2"/>
<path d="M1601 420.3 L1601 412.5 L1624.3 412.5 L1624.3 420.3" stroke="#a54b4b" stroke-width="2" fill="none" />
<path d="M1609.0 438.5 L1616.0 438.5" stroke="#8a8a8a" stroke-width="1" fill="none" />
<path d="M1612.5 435.0 L1612.5 442.0" stroke="#8a8a8a" stroke-width="1" fill="none" />
<path d="M1623.1 438.8 L1627.3 438.8" stroke="#a54b4b" stroke-width="2" fill="none" />
<circle cx="1627.3" cy="439.2" r="1.6" fill="#a54b4b"/>
<path d="M1627.3 439.5 L1643.5 439.5" stroke="#a54b4b" stroke-width="1" fill="none" />
<path d="M1627.3 439.5 L1627.3 454.6 L1643.5 454.6" stroke="#a54b4b" stroke-width="1" fill="none" />
<path d="M1643.5 439.5 L1643.5 454.6" stroke="#4ca34c" stroke-width="1" fill="none" />
<path d="M1643.5 439.5 L1688.5 439.5 L1688.5 470" stroke="#4ca34c" stroke-width="1" fill="none" />
<path d="M1688.5 470 L1688.5 484" stroke="#a54b4b" stroke-width="1" fill="none" />
<path d="M1676 484 L1700 484" stroke="#a54b4b" stroke-width="2" fill="none" />
<path d="M1688.5 470 L1688.5 488.5" stroke="#a54b4b" stroke-width="1" fill="none" />
<circle cx="1582.5" cy="439.5" r="3.6" fill="#3c9a3c"/>
<circle cx="1643.5" cy="439.5" r="3.6" fill="#3c9a3c"/>
<text x="1671.52" y="499.9" font-size="15.41" fill="#8a8a8a" textLength="30.03" lengthAdjust="spacingAndGlyphs">GND</text>
<text x="1596.51" y="401.2" font-size="15.41" fill="#8a8a8a" textLength="15.93" lengthAdjust="spacingAndGlyphs">S1</text>
<text x="1586.92" y="436.5" font-size="11.34" fill="#8a8a8a" textLength="6.45" lengthAdjust="spacingAndGlyphs">1</text>
<text x="1586.57" y="451.5" font-size="11.34" fill="#8a8a8a" textLength="6.96" lengthAdjust="spacingAndGlyphs">2</text>
<text x="1628.73" y="436.5" font-size="11.34" fill="#8a8a8a" textLength="6.80" lengthAdjust="spacingAndGlyphs">3</text>
<text x="1628.31" y="451.5" font-size="11.34" fill="#8a8a8a" textLength="7.06" lengthAdjust="spacingAndGlyphs">4</text>
<text x="1519.78" y="453.8" font-size="15.41" fill="#8a8a8a" textLength="61.24" lengthAdjust="spacingAndGlyphs">BUTTON</text>
<path d="M1518.0 454.5 L1525.0 454.5" stroke="#8a8a8a" stroke-width="1" fill="none" />
<path d="M1521.5 451.0 L1521.5 458.0" stroke="#8a8a8a" stroke-width="1" fill="none" />
<text x="1489.7" y="332.75" font-size="15.99" fill="#8a8a8a" textLength="26.33" lengthAdjust="spacingAndGlyphs" transform="rotate(-90 1489.7 332.75)">VCC</text>
<text x="1497.2" y="432.04" font-size="17.15" fill="#2a2a2a" textLength="17.74" lengthAdjust="spacingAndGlyphs" transform="rotate(-90 1497.2 432.04)">R2</text>
<text x="1525.1" y="429.33" font-size="17.44" fill="#2a2a2a" textLength="19.61" lengthAdjust="spacingAndGlyphs" transform="rotate(-90 1525.1 429.33)">10k</text>
<rect x="695.5" y="454.5" width="91" height="61" fill="none" stroke="#a54b4b" stroke-width="3"/>
<path d="M672.5 469.5 L719.5 469.5" stroke="#4ca34c" stroke-width="1" fill="none" />
<path d="M719.5 469.5 L721.2 469.5" stroke="#a54b4b" stroke-width="1" fill="none" />
<path d="M760.8 469.5 L763 469.5" stroke="#a54b4b" stroke-width="1" fill="none" />
<path d="M763 469.5 L810 469.5" stroke="#4ca34c" stroke-width="1" fill="none" />
<path d="M733.7 472.07 L730.07 475.7 L724.93 475.7 L721.3 472.07 L721.3 466.93 L724.93 463.3 L730.07 463.3 L733.7 466.93 L733.7 472.07" stroke="#a54b4b" stroke-width="1" fill="none" />
<path d="M760.6 472.07 L756.97 475.7 L751.83 475.7 L748.2 472.07 L748.2 466.93 L751.83 463.3 L756.97 463.3 L760.6 466.93 L760.6 472.07" stroke="#a54b4b" stroke-width="1" fill="none" />
<path d="M669.0 469.5 L676.0 469.5" stroke="#8a8a8a" stroke-width="1" fill="none" />
<path d="M672.5 466.0 L672.5 473.0" stroke="#8a8a8a" stroke-width="1" fill="none" />
<path d="M806.0 469.5 L813.0 469.5" stroke="#8a8a8a" stroke-width="1" fill="none" />
<path d="M809.5 466.0 L809.5 473.0" stroke="#8a8a8a" stroke-width="1" fill="none" />
<path d="M672.5 484.5 L719.5 484.5" stroke="#4ca34c" stroke-width="1" fill="none" />
<path d="M719.5 484.5 L721.2 484.5" stroke="#a54b4b" stroke-width="1" fill="none" />
<path d="M760.8 484.5 L763 484.5" stroke="#a54b4b" stroke-width="1" fill="none" />
<path d="M763 484.5 L810 484.5" stroke="#4ca34c" stroke-width="1" fill="none" />
<path d="M733.7 487.07 L730.07 490.7 L724.93 490.7 L721.3 487.07 L721.3 481.93 L724.93 478.3 L730.07 478.3 L733.7 481.93 L733.7 487.07" stroke="#a54b4b" stroke-width="1" fill="none" />
<path d="M760.6 487.07 L756.97 490.7 L751.83 490.7 L748.2 487.07 L748.2 481.93 L751.83 478.3 L756.97 478.3 L760.6 481.93 L760.6 487.07" stroke="#a54b4b" stroke-width="1" fill="none" />
<path d="M669.0 484.5 L676.0 484.5" stroke="#8a8a8a" stroke-width="1" fill="none" />
<path d="M672.5 481.0 L672.5 488.0" stroke="#8a8a8a" stroke-width="1" fill="none" />
<path d="M806.0 484.5 L813.0 484.5" stroke="#8a8a8a" stroke-width="1" fill="none" />
<path d="M809.5 481.0 L809.5 488.0" stroke="#8a8a8a" stroke-width="1" fill="none" />
<path d="M672.5 500.5 L719.5 500.5" stroke="#4ca34c" stroke-width="1" fill="none" />
<path d="M719.5 500.5 L721.2 500.5" stroke="#a54b4b" stroke-width="1" fill="none" />
<path d="M760.8 500.5 L763 500.5" stroke="#a54b4b" stroke-width="1" fill="none" />
<path d="M763 500.5 L810 500.5" stroke="#4ca34c" stroke-width="1" fill="none" />
<path d="M733.7 503.07 L730.07 506.7 L724.93 506.7 L721.3 503.07 L721.3 497.93 L724.93 494.3 L730.07 494.3 L733.7 497.93 L733.7 503.07" stroke="#a54b4b" stroke-width="1" fill="none" />
<path d="M760.6 503.07 L756.97 506.7 L751.83 506.7 L748.2 503.07 L748.2 497.93 L751.83 494.3 L756.97 494.3 L760.6 497.93 L760.6 503.07" stroke="#a54b4b" stroke-width="1" fill="none" />
<path d="M669.0 500.5 L676.0 500.5" stroke="#8a8a8a" stroke-width="1" fill="none" />
<path d="M672.5 497.0 L672.5 504.0" stroke="#8a8a8a" stroke-width="1" fill="none" />
<path d="M806.0 500.5 L813.0 500.5" stroke="#8a8a8a" stroke-width="1" fill="none" />
<path d="M809.5 497.0 L809.5 504.0" stroke="#8a8a8a" stroke-width="1" fill="none" />
<path d="M729.8 484.5 L736.8 484.5" stroke="#a54b4b" stroke-width="1" fill="none" />
<path d="M733.3 481.0 L733.3 488.0" stroke="#a54b4b" stroke-width="1" fill="none" />
<text x="694.80" y="450.2" font-size="15.84" fill="#8a8a8a" textLength="21.61" lengthAdjust="spacingAndGlyphs">JP1</text>
<text x="671.09" y="468.7" font-size="15.70" fill="#8a8a8a" textLength="37.61" lengthAdjust="spacingAndGlyphs">MISO</text>
<text x="671.75" y="483.6" font-size="15.70" fill="#8a8a8a" textLength="24.89" lengthAdjust="spacingAndGlyphs">SCK</text>
<text x="671.22" y="499.4" font-size="15.70" fill="#8a8a8a" textLength="26.38" lengthAdjust="spacingAndGlyphs">RST</text>
<text x="712.05" y="466.7" font-size="11.63" fill="#8a8a8a" textLength="6.19" lengthAdjust="spacingAndGlyphs">1</text>
<text x="711.52" y="481.1" font-size="11.34" fill="#8a8a8a" textLength="7.04" lengthAdjust="spacingAndGlyphs">3</text>
<text x="711.49" y="497.3" font-size="11.63" fill="#8a8a8a" textLength="7.04" lengthAdjust="spacingAndGlyphs">5</text>
<text x="761.56" y="466.7" font-size="11.63" fill="#8a8a8a" textLength="7.08" lengthAdjust="spacingAndGlyphs">2</text>
<text x="761.94" y="481.1" font-size="11.34" fill="#8a8a8a" textLength="6.40" lengthAdjust="spacingAndGlyphs">4</text>
<text x="761.58" y="497.3" font-size="11.63" fill="#8a8a8a" textLength="6.75" lengthAdjust="spacingAndGlyphs">6</text>
<text x="808.05" y="468.8" font-size="15.70" fill="#8a8a8a" textLength="26.23" lengthAdjust="spacingAndGlyphs">VCC</text>
<text x="806.91" y="483.7" font-size="15.70" fill="#8a8a8a" textLength="37.13" lengthAdjust="spacingAndGlyphs">MOSI</text>
<text x="807.42" y="499.7" font-size="15.70" fill="#8a8a8a" textLength="30.13" lengthAdjust="spacingAndGlyphs">GND</text>
<text x="560.19" y="693.3" font-size="11.63" fill="#8a8a8a" textLength="5.93" lengthAdjust="spacingAndGlyphs">1</text>
<text x="560.49" y="709.3" font-size="11.63" fill="#8a8a8a" textLength="5.62" lengthAdjust="spacingAndGlyphs">2</text>
<text x="560.63" y="724.3" font-size="11.63" fill="#8a8a8a" textLength="5.40" lengthAdjust="spacingAndGlyphs">3</text>
<text x="560.79" y="739.3" font-size="11.63" fill="#8a8a8a" textLength="5.08" lengthAdjust="spacingAndGlyphs">4</text>
<text x="560.61" y="754.3" font-size="11.63" fill="#8a8a8a" textLength="5.40" lengthAdjust="spacingAndGlyphs">5</text>
<text x="560.49" y="769.3" font-size="11.63" fill="#8a8a8a" textLength="5.54" lengthAdjust="spacingAndGlyphs">6</text>
<path d="M521.5 696.5 L551.8 696.5" stroke="#4ca34c" stroke-width="1" fill="none" />
<path d="M551.8 696.5 L582 696.5" stroke="#a54b4b" stroke-width="1" fill="none" />
<path d="M518.0 696.5 L525.0 696.5" stroke="#8a8a8a" stroke-width="1" fill="none" />
<path d="M521.5 693.0 L521.5 700.0" stroke="#8a8a8a" stroke-width="1" fill="none" />
<text x="519.63" y="695.6" font-size="15.70" fill="#8a8a8a" textLength="29.71" lengthAdjust="spacingAndGlyphs">GND</text>
<text x="594.66" y="700.8" font-size="12.21" fill="#8a8a8a" textLength="23.64" lengthAdjust="spacingAndGlyphs">GND</text>
<path d="M521.5 712.5 L551.8 712.5" stroke="#4ca34c" stroke-width="1" fill="none" />
<path d="M551.8 712.5 L582 712.5" stroke="#a54b4b" stroke-width="1" fill="none" />
<path d="M518.0 712.5 L525.0 712.5" stroke="#8a8a8a" stroke-width="1" fill="none" />
<path d="M521.5 709.0 L521.5 716.0" stroke="#8a8a8a" stroke-width="1" fill="none" />
<text x="519.62" y="711.6" font-size="15.70" fill="#8a8a8a" textLength="26.80" lengthAdjust="spacingAndGlyphs">CTS</text>
<text x="594.65" y="716.8" font-size="12.21" fill="#8a8a8a" textLength="21.65" lengthAdjust="spacingAndGlyphs">CTS</text>
<path d="M521.5 727.5 L551.8 727.5" stroke="#4ca34c" stroke-width="1" fill="none" />
<path d="M551.8 727.5 L582 727.5" stroke="#a54b4b" stroke-width="1" fill="none" />
<path d="M518.0 727.5 L525.0 727.5" stroke="#8a8a8a" stroke-width="1" fill="none" />
<path d="M521.5 724.0 L521.5 731.0" stroke="#8a8a8a" stroke-width="1" fill="none" />
<text x="520.25" y="726.6" font-size="15.70" fill="#8a8a8a" textLength="26.02" lengthAdjust="spacingAndGlyphs">VCC</text>
<text x="595.16" y="731.8" font-size="12.21" fill="#8a8a8a" textLength="21.02" lengthAdjust="spacingAndGlyphs">VCC</text>
<path d="M521.5 742.5 L551.8 742.5" stroke="#4ca34c" stroke-width="1" fill="none" />
<path d="M551.8 742.5 L582 742.5" stroke="#a54b4b" stroke-width="1" fill="none" />
<path d="M518.0 742.5 L525.0 742.5" stroke="#8a8a8a" stroke-width="1" fill="none" />
<path d="M521.5 739.0 L521.5 746.0" stroke="#8a8a8a" stroke-width="1" fill="none" />
<text x="519.98" y="741.6" font-size="15.70" fill="#8a8a8a" textLength="18.01" lengthAdjust="spacingAndGlyphs">TX</text>
<text x="594.95" y="746.8" font-size="12.21" fill="#8a8a8a" textLength="22.39" lengthAdjust="spacingAndGlyphs">TXD</text>
<path d="M521.5 757.5 L551.8 757.5" stroke="#4ca34c" stroke-width="1" fill="none" />
<path d="M551.8 757.5 L582 757.5" stroke="#a54b4b" stroke-width="1" fill="none" />
<path d="M518.0 757.5 L525.0 757.5" stroke="#8a8a8a" stroke-width="1" fill="none" />
<path d="M521.5 754.0 L521.5 761.0" stroke="#8a8a8a" stroke-width="1" fill="none" />
<text x="519.25" y="756.6" font-size="15.70" fill="#8a8a8a" textLength="17.71" lengthAdjust="spacingAndGlyphs">RX</text>
<text x="594.33" y="761.8" font-size="12.21" fill="#8a8a8a" textLength="22.48" lengthAdjust="spacingAndGlyphs">RXD</text>
<path d="M521.5 772.5 L551.8 772.5" stroke="#4ca34c" stroke-width="1" fill="none" />
<path d="M551.8 772.5 L582 772.5" stroke="#a54b4b" stroke-width="1" fill="none" />
<path d="M518.0 772.5 L525.0 772.5" stroke="#8a8a8a" stroke-width="1" fill="none" />
<path d="M521.5 769.0 L521.5 776.0" stroke="#8a8a8a" stroke-width="1" fill="none" />
<text x="519.18" y="771.6" font-size="15.70" fill="#8a8a8a" textLength="27.24" lengthAdjust="spacingAndGlyphs">RTS</text>
<text x="594.30" y="776.8" font-size="12.21" fill="#8a8a8a" textLength="22.01" lengthAdjust="spacingAndGlyphs">RTS</text>
<path d="M551.5 768.9 L551.5 775.7" stroke="#a54b4b" stroke-width="1" fill="none" />
<rect x="566" y="671" width="61" height="125" fill="none" stroke="#a54b4b" stroke-width="2"/>
<text x="572.70" y="685.9" font-size="15.70" fill="#8a8a8a" textLength="45.20" lengthAdjust="spacingAndGlyphs">(Black)</text>
<text x="570.09" y="788.3" font-size="15.70" fill="#8a8a8a" textLength="50.52" lengthAdjust="spacingAndGlyphs">(Green)</text>
<path d="M839.5 648.5 L839.5 665.5" stroke="#a54b4b" stroke-width="1" fill="none" />
<path d="M831.0 662.0 L839.5 650.0 L847.5 662.0" stroke="#a54b4b" stroke-width="2" fill="none" />
<path d="M836.5 651.0 L842.5 651.0" stroke="#a54b4b" stroke-width="1" fill="none" />
<path d="M839.5 665.5 L839.5 712.5 L977 712.5" stroke="#4ca34c" stroke-width="1" fill="none" />
<path d="M977 712.5 L1006 712.5" stroke="#a54b4b" stroke-width="1" fill="none" />
<path d="M977 787.5 L839.5 787.5 L839.5 789" stroke="#4ca34c" stroke-width="1" fill="none" />
<path d="M977 787.5 L1006 787.5" stroke="#a54b4b" stroke-width="1" fill="none" />
<path d="M827 802 L851.5 802" stroke="#a54b4b" stroke-width="2" fill="none" />
<path d="M839.5 788 L839.5 806.5" stroke="#a54b4b" stroke-width="1" fill="none" />
<path d="M839.5 789 L839.5 802" stroke="#a54b4b" stroke-width="1" fill="none" />
<path d="M897.0 712.5 L904.0 712.5" stroke="#8a8a8a" stroke-width="1" fill="none" />
<path d="M900.5 709.0 L900.5 716.0" stroke="#8a8a8a" stroke-width="1" fill="none" />
<path d="M897.0 787.5 L904.0 787.5" stroke="#8a8a8a" stroke-width="1" fill="none" />
<path d="M900.5 784.0 L900.5 791.0" stroke="#8a8a8a" stroke-width="1" fill="none" />
<text x="823.8" y="665.75" font-size="15.99" fill="#8a8a8a" textLength="26.13" lengthAdjust="spacingAndGlyphs" transform="rotate(-90 823.8 665.75)">VCC</text>
<text x="898.94" y="711.6" font-size="15.70" fill="#8a8a8a" textLength="26.64" lengthAdjust="spacingAndGlyphs">VCC</text>
<text x="898.31" y="786.7" font-size="15.70" fill="#8a8a8a" textLength="30.34" lengthAdjust="spacingAndGlyphs">GND</text>
<text x="983.49" y="709.2" font-size="11.92" fill="#8a8a8a" textLength="7.35" lengthAdjust="spacingAndGlyphs">1</text>
<text x="976.32" y="785.0" font-size="11.92" fill="#8a8a8a" textLength="14.25" lengthAdjust="spacingAndGlyphs">14</text>
<text x="822.43" y="818.1" font-size="15.70" fill="#8a8a8a" textLength="29.82" lengthAdjust="spacingAndGlyphs">GND</text>
<text x="1004.11" y="585.9" font-size="15.41" fill="#8a8a8a" textLength="23.42" lengthAdjust="spacingAndGlyphs">IC1</text>
<text x="1005.47" y="818.1" font-size="15.70" fill="#8a8a8a" textLength="101.94" lengthAdjust="spacingAndGlyphs">ATTINY44-SSU</text>
<path d="M1018.2 696.5 L1024.2 696.5" stroke="#a54b4b" stroke-width="1" fill="none" />
<path d="M1021.2 693.5 L1021.2 699.5" stroke="#a54b4b" stroke-width="1" fill="none" />
<text x="1019.46" y="715.6" font-size="12.21" fill="#8a8a8a" textLength="21.23" lengthAdjust="spacingAndGlyphs">VCC</text>
<text x="1018.97" y="791.5" font-size="12.21" fill="#8a8a8a" textLength="23.54" lengthAdjust="spacingAndGlyphs">GND</text>
<path d="M1294 606.5 L1324 606.5" stroke="#a54b4b" stroke-width="1" fill="none" />
<text x="1134.07" y="609.7" font-size="12.21" fill="#8a8a8a" textLength="144.45" lengthAdjust="spacingAndGlyphs">(PCINT11/RESET/DW)PB3</text>
<text x="1306.94" y="603.2" font-size="11.63" fill="#8a8a8a" textLength="6.40" lengthAdjust="spacingAndGlyphs">4</text>
<path d="M1294 621.5 L1324 621.5" stroke="#a54b4b" stroke-width="1" fill="none" />
<text x="1088.26" y="624.7" font-size="12.21" fill="#8a8a8a" textLength="190.35" lengthAdjust="spacingAndGlyphs">(PCINT10/INT0/OC0A/CKOUT)PB2</text>
<text x="1306.71" y="618.2" font-size="11.63" fill="#8a8a8a" textLength="6.80" lengthAdjust="spacingAndGlyphs">5</text>
<path d="M1294 636.5 L1324 636.5" stroke="#a54b4b" stroke-width="1" fill="none" />
<text x="1166.06" y="639.7" font-size="12.21" fill="#8a8a8a" textLength="112.52" lengthAdjust="spacingAndGlyphs">(PCINT9/XTAL2)PB1</text>
<text x="1306.73" y="633.2" font-size="11.63" fill="#8a8a8a" textLength="6.80" lengthAdjust="spacingAndGlyphs">3</text>
<path d="M1294 651.5 L1324 651.5" stroke="#a54b4b" stroke-width="1" fill="none" />
<text x="1137.27" y="654.7" font-size="12.21" fill="#8a8a8a" textLength="141.19" lengthAdjust="spacingAndGlyphs">(PCINT8/XTAL1/CLKI)PB0</text>
<text x="1306.56" y="648.2" font-size="11.63" fill="#8a8a8a" textLength="7.08" lengthAdjust="spacingAndGlyphs">2</text>
<path d="M1294 681.5 L1324 681.5" stroke="#a54b4b" stroke-width="1" fill="none" />
<text x="1113.27" y="684.7" font-size="12.21" fill="#8a8a8a" textLength="165.33" lengthAdjust="spacingAndGlyphs">(PCINT7/ICP/OC0B/ADC7)PA7</text>
<text x="1306.56" y="678.2" font-size="11.63" fill="#8a8a8a" textLength="6.99" lengthAdjust="spacingAndGlyphs">6</text>
<path d="M1294 696.5 L1324 696.5" stroke="#a54b4b" stroke-width="1" fill="none" />
<text x="1073.36" y="699.7" font-size="12.21" fill="#8a8a8a" textLength="205.16" lengthAdjust="spacingAndGlyphs">(PCINT6/OC1A/SDA/MOSI/ADC6)PA6</text>
<text x="1306.55" y="693.2" font-size="11.63" fill="#8a8a8a" textLength="7.10" lengthAdjust="spacingAndGlyphs">7</text>
<path d="M1294 712.5 L1324 712.5" stroke="#a54b4b" stroke-width="1" fill="none" />
<text x="1080.46" y="715.7" font-size="12.21" fill="#8a8a8a" textLength="198.04" lengthAdjust="spacingAndGlyphs">(PCINT5/OC1B/MISO/DO/ADC5)PA5</text>
<text x="1306.66" y="709.2" font-size="11.63" fill="#8a8a8a" textLength="6.87" lengthAdjust="spacingAndGlyphs">8</text>
<path d="M1294 727.5 L1324 727.5" stroke="#a54b4b" stroke-width="1" fill="none" />
<text x="1092.17" y="730.7" font-size="12.21" fill="#8a8a8a" textLength="186.18" lengthAdjust="spacingAndGlyphs">(PCINT4/T1/SCL/USCK/ADC4)PA4</text>
<text x="1306.61" y="724.2" font-size="11.63" fill="#8a8a8a" textLength="6.98" lengthAdjust="spacingAndGlyphs">9</text>
<path d="M1294 742.5 L1324 742.5" stroke="#a54b4b" stroke-width="1" fill="none" />
<text x="1151.05" y="745.7" font-size="12.21" fill="#8a8a8a" textLength="127.49" lengthAdjust="spacingAndGlyphs">(PCINT3/T0/ADC3)PA3</text>
<text x="1306.21" y="739.2" font-size="11.63" fill="#8a8a8a" textLength="14.50" lengthAdjust="spacingAndGlyphs">10</text>
<path d="M1294 757.5 L1324 757.5" stroke="#a54b4b" stroke-width="1" fill="none" />
<text x="1139.35" y="760.7" font-size="12.21" fill="#8a8a8a" textLength="139.25" lengthAdjust="spacingAndGlyphs">(PCINT2/AIN1/ADC2)PA2</text>
<text x="1306.20" y="754.2" font-size="11.63" fill="#8a8a8a" textLength="14.65" lengthAdjust="spacingAndGlyphs">11</text>
<path d="M1294 772.5 L1324 772.5" stroke="#a54b4b" stroke-width="1" fill="none" />
<text x="1139.35" y="775.7" font-size="12.21" fill="#8a8a8a" textLength="139.24" lengthAdjust="spacingAndGlyphs">(PCINT1/AIN0/ADC1)PA1</text>
<text x="1306.20" y="769.2" font-size="11.63" fill="#8a8a8a" textLength="14.67" lengthAdjust="spacingAndGlyphs">12</text>
<path d="M1294 787.5 L1324 787.5" stroke="#a54b4b" stroke-width="1" fill="none" />
<text x="1138.38" y="790.7" font-size="12.21" fill="#8a8a8a" textLength="140.08" lengthAdjust="spacingAndGlyphs">(PCINT0/AREF/ADC0)PA0</text>
<text x="1306.20" y="784.2" font-size="11.63" fill="#8a8a8a" textLength="14.57" lengthAdjust="spacingAndGlyphs">13</text>
<rect x="1006" y="590" width="288" height="212" fill="none" stroke="#a54b4b" stroke-width="2"/>
<path d="M1324 606.5 L1400.5 606.5 L1400.5 544.7" stroke="#4ca34c" stroke-width="1" fill="none" />
<path d="M1324 636.5 L1491.5 636.5 L1491.5 696.5 L1476.2 696.5" stroke="#4ca34c" stroke-width="1" fill="none" />
<path d="M1324 651.5 L1385.5 651.5 L1385.5 696.5" stroke="#4ca34c" stroke-width="1" fill="none" />
<path d="M1324 681.5 L1356 681.5" stroke="#4ca34c" stroke-width="1" fill="none" />
<path d="M1324 696.5 L1356 696.5" stroke="#4ca34c" stroke-width="1" fill="none" />
<path d="M1324 712.5 L1356 712.5" stroke="#4ca34c" stroke-width="1" fill="none" />
<path d="M1324 727.5 L1356 727.5" stroke="#4ca34c" stroke-width="1" fill="none" />
<path d="M1324 742.5 L1356 742.5" stroke="#4ca34c" stroke-width="1" fill="none" />
<path d="M1324 772.5 L1356 772.5" stroke="#4ca34c" stroke-width="1" fill="none" />
<path d="M1324 787.5 L1370.8 787.5" stroke="#4ca34c" stroke-width="1" fill="none" />
<path d="M1324.5 677.5 L1324.5 685.0" stroke="#8a8a8a" stroke-width="1" fill="none" />
<path d="M1324.5 692.5 L1324.5 700.0" stroke="#8a8a8a" stroke-width="1" fill="none" />
<path d="M1324.5 708.5 L1324.5 716.0" stroke="#8a8a8a" stroke-width="1" fill="none" />
<path d="M1324.5 723.5 L1324.5 731.0" stroke="#8a8a8a" stroke-width="1" fill="none" />
<path d="M1324.5 738.5 L1324.5 746.0" stroke="#8a8a8a" stroke-width="1" fill="none" />
<path d="M1324.5 768.5 L1324.5 776.0" stroke="#8a8a8a" stroke-width="1" fill="none" />
<path d="M1324.5 783.5 L1324.5 791.0" stroke="#8a8a8a" stroke-width="1" fill="none" />
<path d="M1351.5 606.5 L1358.5 606.5" stroke="#8a8a8a" stroke-width="1" fill="none" />
<path d="M1355 603.0 L1355 610.0" stroke="#8a8a8a" stroke-width="1" fill="none" />
<text x="1352.49" y="605.6" font-size="15.70" fill="#8a8a8a" textLength="27.02" lengthAdjust="spacingAndGlyphs">RST</text>
<text x="1323.06" y="680.6" font-size="15.70" fill="#8a8a8a" textLength="50.38" lengthAdjust="spacingAndGlyphs">LEDPIN</text>
<text x="1323.00" y="695.6" font-size="15.70" fill="#8a8a8a" textLength="37.24" lengthAdjust="spacingAndGlyphs">MOSI</text>
<text x="1322.99" y="711.6" font-size="15.70" fill="#8a8a8a" textLength="37.72" lengthAdjust="spacingAndGlyphs">MISO</text>
<text x="1323.65" y="726.6" font-size="15.70" fill="#8a8a8a" textLength="24.78" lengthAdjust="spacingAndGlyphs">SCK</text>
<text x="1322.98" y="741.6" font-size="15.70" fill="#8a8a8a" textLength="61.24" lengthAdjust="spacingAndGlyphs">BUTTON</text>
<text x="1323.17" y="771.6" font-size="15.70" fill="#8a8a8a" textLength="17.50" lengthAdjust="spacingAndGlyphs">RX</text>
<text x="1323.88" y="786.6" font-size="15.70" fill="#8a8a8a" textLength="18.32" lengthAdjust="spacingAndGlyphs">TX</text>
<path d="M1400.5 451.8 L1400.5 468.8" stroke="#a54b4b" stroke-width="1" fill="none" />
<path d="M1392.0 465.3 L1400.5 453.3 L1408.5 465.3" stroke="#a54b4b" stroke-width="2" fill="none" />
<path d="M1397.5 454.3 L1403.5 454.3" stroke="#a54b4b" stroke-width="1" fill="none" />
<path d="M1400.5 469.1 L1400.5 484.9" stroke="#4ca34c" stroke-width="1" fill="none" />
<path d="M1400.5 484.9 L1400.5 499" stroke="#a54b4b" stroke-width="1" fill="none" />
<path d="M1400.5 499 L1406.4 501.34 L1394.6 505.6 L1406.4 509.67 L1394.6 513.12 L1406.4 516.78 L1394.6 520.85 L1406.4 524.91 L1394.6 528.97 L1400.5 530.6" stroke="#a54b4b" stroke-width="2" fill="none" stroke-linejoin="round" stroke-linecap="round"/>
<path d="M1400.5 530.6 L1400.5 544.7" stroke="#a54b4b" stroke-width="1" fill="none" />
<text x="1384.0" y="468.95" font-size="15.99" fill="#8a8a8a" textLength="26.13" lengthAdjust="spacingAndGlyphs" transform="rotate(-90 1384.0 468.95)">VCC</text>
<text x="1391.1" y="537.91" font-size="16.28" fill="#8a8a8a" textLength="52.35" lengthAdjust="spacingAndGlyphs" transform="rotate(-90 1391.1 537.91)">R1 RST</text>
<text x="1418.6" y="535.26" font-size="15.99" fill="#8a8a8a" textLength="20.24" lengthAdjust="spacingAndGlyphs" transform="rotate(-90 1418.6 535.26)">10k</text>
<path d="M1385.5 696.5 L1408.5 696.5" stroke="#a54b4b" stroke-width="1" fill="none" />
<circle cx="1408.5" cy="696.5" r="2.6" fill="#a54b4b"/>
<path d="M1408.5 696.5 L1423.3 696.5" stroke="#a54b4b" stroke-width="1" fill="none" />
<path d="M1423.5 689.1 L1423.5 704.9" stroke="#a54b4b" stroke-width="1" fill="none" />
<rect x="1427.5" y="689.6" width="6.2" height="15" fill="none" stroke="#a54b4b" stroke-width="1"/>
<path d="M1430.5 692.5 L1430.5 701.5" stroke="#a54b4b" stroke-width="1" fill="none" />
<path d="M1428.5 697 L1432.5 697" stroke="#a54b4b" stroke-width="1" fill="none" />
<path d="M1438.5 689.1 L1438.5 704.9" stroke="#a54b4b" stroke-width="1" fill="none" />
<path d="M1438.5 696.5 L1453.5 696.5" stroke="#a54b4b" stroke-width="1" fill="none" />
<circle cx="1453.5" cy="696.5" r="2.6" fill="#a54b4b"/>
<path d="M1453.5 696.5 L1476.2 696.5" stroke="#a54b4b" stroke-width="1" fill="none" />
<path d="M1408.5 696.5 L1408.5 716.5 L1415.5 716.5" stroke="#a54b4b" stroke-width="1" fill="none" />
<path d="M1415.5 710 L1415.5 722.7" stroke="#a54b4b" stroke-width="1" fill="none" />
<path d="M1420.5 710 L1420.5 722.7" stroke="#a54b4b" stroke-width="1" fill="none" />
<path d="M1420.5 716.5 L1441.5 716.5" stroke="#a54b4b" stroke-width="1" fill="none" />
<circle cx="1430.5" cy="716.5" r="2.6" fill="#a54b4b"/>
<path d="M1441.5 710 L1441.5 722.7" stroke="#a54b4b" stroke-width="1" fill="none" />
<path d="M1445.5 710 L1445.5 722.7" stroke="#a54b4b" stroke-width="1" fill="none" />
<path d="M1445.5 716.5 L1453.5 716.5 L1453.5 696.5" stroke="#a54b4b" stroke-width="1" fill="none" />
<path d="M1430.5 716.5 L1430.5 745.2" stroke="#a54b4b" stroke-width="1" fill="none" />
<path d="M1418.2 741.8 L1442.6 741.8" stroke="#a54b4b" stroke-width="2" fill="none" />
<rect x="1400" y="681" width="61" height="46" fill="none" stroke="#a54b4b" stroke-width="2"/>
<text x="1397.87" y="674.3" font-size="15.41" fill="#8a8a8a" textLength="26.97" lengthAdjust="spacingAndGlyphs">U$2</text>
<text x="1390.42" y="693.6" font-size="11.63" fill="#8a8a8a" textLength="5.68" lengthAdjust="spacingAndGlyphs">1</text>
<text x="1462.28" y="693.6" font-size="11.63" fill="#8a8a8a" textLength="6.10" lengthAdjust="spacingAndGlyphs">3</text>
<text x="1427.7" y="736.63" font-size="12.35" fill="#8a8a8a" textLength="6.96" lengthAdjust="spacingAndGlyphs" transform="rotate(-90 1427.7 736.63)">2</text>
<text x="1414.63" y="757.2" font-size="15.41" fill="#8a8a8a" textLength="29.82" lengthAdjust="spacingAndGlyphs">GND</text>
<text x="1444.09" y="741.9" font-size="15.41" fill="#8a8a8a" textLength="85.33" lengthAdjust="spacingAndGlyphs">RESONATOR</text>
</g>
</svg>
</body></html>
